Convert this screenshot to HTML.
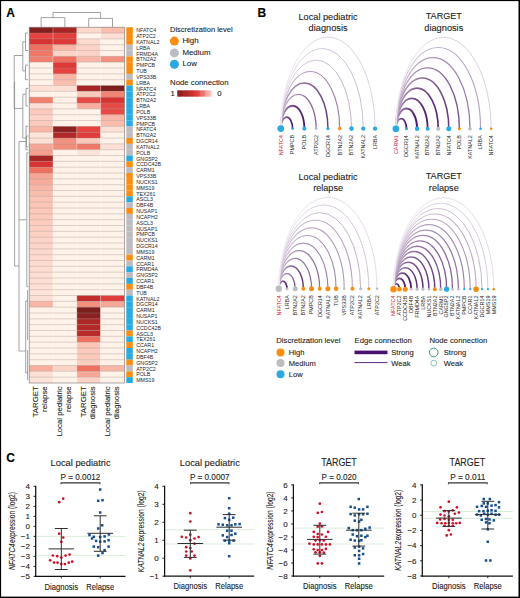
<!DOCTYPE html>
<html><head><meta charset="utf-8"><style>
html,body{margin:0;padding:0;background:#fff;}
body{width:520px;height:598px;overflow:hidden;}
svg{display:block;font-family:"Liberation Sans", sans-serif;}

</style></head><body>
<svg width="520" height="598" viewBox="0 0 520 598">
<rect x="0" y="0" width="520" height="1.1" fill="#000"/>
<rect x="0" y="0" width="1.1" height="598" fill="#000"/>
<rect x="518.5" y="0" width="1.5" height="598" fill="#000"/>
<rect x="0" y="596.6" width="520" height="1.4" fill="#000"/>
<text x="6.2" y="16.7" font-size="12" font-weight="bold" fill="#000" stroke="#000" stroke-width="0.1">A</text>
<text x="257.5" y="16.9" font-size="12" font-weight="bold" fill="#000" stroke="#000" stroke-width="0.1">B</text>
<text x="6.2" y="461.9" font-size="12" font-weight="bold" fill="#000" stroke="#000" stroke-width="0.1">C</text>
<rect x="29.20" y="27.20" width="23.85" height="5.88" fill="#852020"/>
<rect x="53.00" y="27.20" width="23.85" height="5.88" fill="#a62525"/>
<rect x="76.80" y="27.20" width="23.85" height="5.88" fill="#fddacd"/>
<rect x="100.60" y="27.20" width="23.85" height="5.88" fill="#fabeae"/>
<rect x="29.20" y="33.03" width="23.85" height="5.88" fill="#e64240"/>
<rect x="53.00" y="33.03" width="23.85" height="5.88" fill="#e33f3d"/>
<rect x="76.80" y="33.03" width="23.85" height="5.88" fill="#fff2e9"/>
<rect x="100.60" y="33.03" width="23.85" height="5.88" fill="#fde0d5"/>
<rect x="29.20" y="38.87" width="23.85" height="5.88" fill="#d73333"/>
<rect x="53.00" y="38.87" width="23.85" height="5.88" fill="#dd3938"/>
<rect x="76.80" y="38.87" width="23.85" height="5.88" fill="#fddacd"/>
<rect x="100.60" y="38.87" width="23.85" height="5.88" fill="#fff2e9"/>
<rect x="29.20" y="44.70" width="23.85" height="5.88" fill="#ee7060"/>
<rect x="53.00" y="44.70" width="23.85" height="5.88" fill="#f9b6a6"/>
<rect x="76.80" y="44.70" width="23.85" height="5.88" fill="#fcd3c6"/>
<rect x="100.60" y="44.70" width="23.85" height="5.88" fill="#fff2e9"/>
<rect x="29.20" y="50.53" width="23.85" height="5.88" fill="#ef7868"/>
<rect x="53.00" y="50.53" width="23.85" height="5.88" fill="#fcd3c6"/>
<rect x="76.80" y="50.53" width="23.85" height="5.88" fill="#fcd3c6"/>
<rect x="100.60" y="50.53" width="23.85" height="5.88" fill="#fff2e9"/>
<rect x="29.20" y="56.36" width="23.85" height="5.88" fill="#f08070"/>
<rect x="53.00" y="56.36" width="23.85" height="5.88" fill="#ee7060"/>
<rect x="76.80" y="56.36" width="23.85" height="5.88" fill="#f9b6a6"/>
<rect x="100.60" y="56.36" width="23.85" height="5.88" fill="#f3907f"/>
<rect x="29.20" y="62.20" width="23.85" height="5.88" fill="#fff2e9"/>
<rect x="53.00" y="62.20" width="23.85" height="5.88" fill="#dd3938"/>
<rect x="76.80" y="62.20" width="23.85" height="5.88" fill="#fff2e9"/>
<rect x="100.60" y="62.20" width="23.85" height="5.88" fill="#fff2e9"/>
<rect x="29.20" y="68.03" width="23.85" height="5.88" fill="#fff2e9"/>
<rect x="53.00" y="68.03" width="23.85" height="5.88" fill="#e64240"/>
<rect x="76.80" y="68.03" width="23.85" height="5.88" fill="#fff2e9"/>
<rect x="100.60" y="68.03" width="23.85" height="5.88" fill="#fff2e9"/>
<rect x="29.20" y="73.86" width="23.85" height="5.88" fill="#fff2e9"/>
<rect x="53.00" y="73.86" width="23.85" height="5.88" fill="#f9b6a6"/>
<rect x="76.80" y="73.86" width="23.85" height="5.88" fill="#fff2e9"/>
<rect x="100.60" y="73.86" width="23.85" height="5.88" fill="#fff2e9"/>
<rect x="29.20" y="79.70" width="23.85" height="5.88" fill="#fff2e9"/>
<rect x="53.00" y="79.70" width="23.85" height="5.88" fill="#fabeae"/>
<rect x="76.80" y="79.70" width="23.85" height="5.88" fill="#fff2e9"/>
<rect x="100.60" y="79.70" width="23.85" height="5.88" fill="#fff2e9"/>
<rect x="29.20" y="85.53" width="23.85" height="5.88" fill="#fde0d5"/>
<rect x="53.00" y="85.53" width="23.85" height="5.88" fill="#fde0d5"/>
<rect x="76.80" y="85.53" width="23.85" height="5.88" fill="#a62525"/>
<rect x="100.60" y="85.53" width="23.85" height="5.88" fill="#7a1e1e"/>
<rect x="29.20" y="91.36" width="23.85" height="5.88" fill="#fff2e9"/>
<rect x="53.00" y="91.36" width="23.85" height="5.88" fill="#fff2e9"/>
<rect x="76.80" y="91.36" width="23.85" height="5.88" fill="#fbcabc"/>
<rect x="100.60" y="91.36" width="23.85" height="5.88" fill="#f18474"/>
<rect x="29.20" y="97.19" width="23.85" height="5.88" fill="#f08070"/>
<rect x="53.00" y="97.19" width="23.85" height="5.88" fill="#fef0e7"/>
<rect x="76.80" y="97.19" width="23.85" height="5.88" fill="#e74a45"/>
<rect x="100.60" y="97.19" width="23.85" height="5.88" fill="#d73333"/>
<rect x="29.20" y="103.03" width="23.85" height="5.88" fill="#fde0d5"/>
<rect x="53.00" y="103.03" width="23.85" height="5.88" fill="#fff2e9"/>
<rect x="76.80" y="103.03" width="23.85" height="5.88" fill="#f7ae9d"/>
<rect x="100.60" y="103.03" width="23.85" height="5.88" fill="#e74a45"/>
<rect x="29.20" y="108.86" width="23.85" height="5.88" fill="#fbcabc"/>
<rect x="53.00" y="108.86" width="23.85" height="5.88" fill="#fff2e9"/>
<rect x="76.80" y="108.86" width="23.85" height="5.88" fill="#fff2e9"/>
<rect x="100.60" y="108.86" width="23.85" height="5.88" fill="#e74a45"/>
<rect x="29.20" y="114.69" width="23.85" height="5.88" fill="#fcd3c6"/>
<rect x="53.00" y="114.69" width="23.85" height="5.88" fill="#fff2e9"/>
<rect x="76.80" y="114.69" width="23.85" height="5.88" fill="#fff2e9"/>
<rect x="100.60" y="114.69" width="23.85" height="5.88" fill="#f9b6a6"/>
<rect x="29.20" y="120.52" width="23.85" height="5.88" fill="#fbcabc"/>
<rect x="53.00" y="120.52" width="23.85" height="5.88" fill="#fff2e9"/>
<rect x="76.80" y="120.52" width="23.85" height="5.88" fill="#fff2e9"/>
<rect x="100.60" y="120.52" width="23.85" height="5.88" fill="#fabcab"/>
<rect x="29.20" y="126.36" width="23.85" height="5.88" fill="#f9b6a6"/>
<rect x="53.00" y="126.36" width="23.85" height="5.88" fill="#8c2121"/>
<rect x="76.80" y="126.36" width="23.85" height="5.88" fill="#e64240"/>
<rect x="100.60" y="126.36" width="23.85" height="5.88" fill="#fde0d5"/>
<rect x="29.20" y="132.19" width="23.85" height="5.88" fill="#fde4d9"/>
<rect x="53.00" y="132.19" width="23.85" height="5.88" fill="#b02828"/>
<rect x="76.80" y="132.19" width="23.85" height="5.88" fill="#e03c3b"/>
<rect x="100.60" y="132.19" width="23.85" height="5.88" fill="#fff2e9"/>
<rect x="29.20" y="138.02" width="23.85" height="5.88" fill="#fde0d5"/>
<rect x="53.00" y="138.02" width="23.85" height="5.88" fill="#f3907f"/>
<rect x="76.80" y="138.02" width="23.85" height="5.88" fill="#fbcabc"/>
<rect x="100.60" y="138.02" width="23.85" height="5.88" fill="#fff2e9"/>
<rect x="29.20" y="143.86" width="23.85" height="5.88" fill="#f6a695"/>
<rect x="53.00" y="143.86" width="23.85" height="5.88" fill="#f28c7b"/>
<rect x="76.80" y="143.86" width="23.85" height="5.88" fill="#ef7868"/>
<rect x="100.60" y="143.86" width="23.85" height="5.88" fill="#fde0d5"/>
<rect x="29.20" y="149.69" width="23.85" height="5.88" fill="#f5a08f"/>
<rect x="53.00" y="149.69" width="23.85" height="5.88" fill="#fff2e9"/>
<rect x="76.80" y="149.69" width="23.85" height="5.88" fill="#fde4d9"/>
<rect x="100.60" y="149.69" width="23.85" height="5.88" fill="#fff2e9"/>
<rect x="29.20" y="155.52" width="23.85" height="5.88" fill="#a62525"/>
<rect x="53.00" y="155.52" width="23.85" height="5.88" fill="#fff2e9"/>
<rect x="76.80" y="155.52" width="23.85" height="5.88" fill="#fff2e9"/>
<rect x="100.60" y="155.52" width="23.85" height="5.88" fill="#fff2e9"/>
<rect x="29.20" y="161.35" width="23.85" height="5.88" fill="#d73333"/>
<rect x="53.00" y="161.35" width="23.85" height="5.88" fill="#fff2e9"/>
<rect x="76.80" y="161.35" width="23.85" height="5.88" fill="#fff2e9"/>
<rect x="100.60" y="161.35" width="23.85" height="5.88" fill="#fff2e9"/>
<rect x="29.20" y="167.19" width="23.85" height="5.88" fill="#ee7060"/>
<rect x="53.00" y="167.19" width="23.85" height="5.88" fill="#fff2e9"/>
<rect x="76.80" y="167.19" width="23.85" height="5.88" fill="#fff2e9"/>
<rect x="100.60" y="167.19" width="23.85" height="5.88" fill="#fff2e9"/>
<rect x="29.20" y="173.02" width="23.85" height="5.88" fill="#f6a695"/>
<rect x="53.00" y="173.02" width="23.85" height="5.88" fill="#fff2e9"/>
<rect x="76.80" y="173.02" width="23.85" height="5.88" fill="#fff2e9"/>
<rect x="100.60" y="173.02" width="23.85" height="5.88" fill="#fff2e9"/>
<rect x="29.20" y="178.85" width="23.85" height="5.88" fill="#f7ab9a"/>
<rect x="53.00" y="178.85" width="23.85" height="5.88" fill="#fff2e9"/>
<rect x="76.80" y="178.85" width="23.85" height="5.88" fill="#fff2e9"/>
<rect x="100.60" y="178.85" width="23.85" height="5.88" fill="#fff2e9"/>
<rect x="29.20" y="184.69" width="23.85" height="5.88" fill="#f9b6a6"/>
<rect x="53.00" y="184.69" width="23.85" height="5.88" fill="#fff2e9"/>
<rect x="76.80" y="184.69" width="23.85" height="5.88" fill="#fff2e9"/>
<rect x="100.60" y="184.69" width="23.85" height="5.88" fill="#fff2e9"/>
<rect x="29.20" y="190.52" width="23.85" height="5.88" fill="#fabeae"/>
<rect x="53.00" y="190.52" width="23.85" height="5.88" fill="#fff2e9"/>
<rect x="76.80" y="190.52" width="23.85" height="5.88" fill="#fff2e9"/>
<rect x="100.60" y="190.52" width="23.85" height="5.88" fill="#fff2e9"/>
<rect x="29.20" y="196.35" width="23.85" height="5.88" fill="#fbc4b4"/>
<rect x="53.00" y="196.35" width="23.85" height="5.88" fill="#fff2e9"/>
<rect x="76.80" y="196.35" width="23.85" height="5.88" fill="#fff2e9"/>
<rect x="100.60" y="196.35" width="23.85" height="5.88" fill="#fff2e9"/>
<rect x="29.20" y="202.18" width="23.85" height="5.88" fill="#fbc6b7"/>
<rect x="53.00" y="202.18" width="23.85" height="5.88" fill="#fff2e9"/>
<rect x="76.80" y="202.18" width="23.85" height="5.88" fill="#fff2e9"/>
<rect x="100.60" y="202.18" width="23.85" height="5.88" fill="#fff2e9"/>
<rect x="29.20" y="208.02" width="23.85" height="5.88" fill="#fbc8b9"/>
<rect x="53.00" y="208.02" width="23.85" height="5.88" fill="#fff2e9"/>
<rect x="76.80" y="208.02" width="23.85" height="5.88" fill="#fff2e9"/>
<rect x="100.60" y="208.02" width="23.85" height="5.88" fill="#fff2e9"/>
<rect x="29.20" y="213.85" width="23.85" height="5.88" fill="#fbcabc"/>
<rect x="53.00" y="213.85" width="23.85" height="5.88" fill="#fff2e9"/>
<rect x="76.80" y="213.85" width="23.85" height="5.88" fill="#fff2e9"/>
<rect x="100.60" y="213.85" width="23.85" height="5.88" fill="#fff2e9"/>
<rect x="29.20" y="219.68" width="23.85" height="5.88" fill="#fccdbe"/>
<rect x="53.00" y="219.68" width="23.85" height="5.88" fill="#fff2e9"/>
<rect x="76.80" y="219.68" width="23.85" height="5.88" fill="#fff2e9"/>
<rect x="100.60" y="219.68" width="23.85" height="5.88" fill="#fff2e9"/>
<rect x="29.20" y="225.51" width="23.85" height="5.88" fill="#fccfc1"/>
<rect x="53.00" y="225.51" width="23.85" height="5.88" fill="#fff2e9"/>
<rect x="76.80" y="225.51" width="23.85" height="5.88" fill="#fff2e9"/>
<rect x="100.60" y="225.51" width="23.85" height="5.88" fill="#fff2e9"/>
<rect x="29.20" y="231.35" width="23.85" height="5.88" fill="#fcd1c3"/>
<rect x="53.00" y="231.35" width="23.85" height="5.88" fill="#fff2e9"/>
<rect x="76.80" y="231.35" width="23.85" height="5.88" fill="#fff2e9"/>
<rect x="100.60" y="231.35" width="23.85" height="5.88" fill="#fff2e9"/>
<rect x="29.20" y="237.18" width="23.85" height="5.88" fill="#fcd3c6"/>
<rect x="53.00" y="237.18" width="23.85" height="5.88" fill="#fff2e9"/>
<rect x="76.80" y="237.18" width="23.85" height="5.88" fill="#fff2e9"/>
<rect x="100.60" y="237.18" width="23.85" height="5.88" fill="#fff2e9"/>
<rect x="29.20" y="243.01" width="23.85" height="5.88" fill="#fcd5c8"/>
<rect x="53.00" y="243.01" width="23.85" height="5.88" fill="#fff2e9"/>
<rect x="76.80" y="243.01" width="23.85" height="5.88" fill="#fff2e9"/>
<rect x="100.60" y="243.01" width="23.85" height="5.88" fill="#fff2e9"/>
<rect x="29.20" y="248.85" width="23.85" height="5.88" fill="#fcd7cb"/>
<rect x="53.00" y="248.85" width="23.85" height="5.88" fill="#fff2e9"/>
<rect x="76.80" y="248.85" width="23.85" height="5.88" fill="#fff2e9"/>
<rect x="100.60" y="248.85" width="23.85" height="5.88" fill="#fff2e9"/>
<rect x="29.20" y="254.68" width="23.85" height="5.88" fill="#fddacd"/>
<rect x="53.00" y="254.68" width="23.85" height="5.88" fill="#fff2e9"/>
<rect x="76.80" y="254.68" width="23.85" height="5.88" fill="#fff2e9"/>
<rect x="100.60" y="254.68" width="23.85" height="5.88" fill="#fff2e9"/>
<rect x="29.20" y="260.51" width="23.85" height="5.88" fill="#fddcd0"/>
<rect x="53.00" y="260.51" width="23.85" height="5.88" fill="#fff2e9"/>
<rect x="76.80" y="260.51" width="23.85" height="5.88" fill="#fff2e9"/>
<rect x="100.60" y="260.51" width="23.85" height="5.88" fill="#fff2e9"/>
<rect x="29.20" y="266.34" width="23.85" height="5.88" fill="#fddcd0"/>
<rect x="53.00" y="266.34" width="23.85" height="5.88" fill="#fff2e9"/>
<rect x="76.80" y="266.34" width="23.85" height="5.88" fill="#fff2e9"/>
<rect x="100.60" y="266.34" width="23.85" height="5.88" fill="#fff2e9"/>
<rect x="29.20" y="272.18" width="23.85" height="5.88" fill="#fdded2"/>
<rect x="53.00" y="272.18" width="23.85" height="5.88" fill="#fff2e9"/>
<rect x="76.80" y="272.18" width="23.85" height="5.88" fill="#fff2e9"/>
<rect x="100.60" y="272.18" width="23.85" height="5.88" fill="#fff2e9"/>
<rect x="29.20" y="278.01" width="23.85" height="5.88" fill="#fdded2"/>
<rect x="53.00" y="278.01" width="23.85" height="5.88" fill="#fff2e9"/>
<rect x="76.80" y="278.01" width="23.85" height="5.88" fill="#fff2e9"/>
<rect x="100.60" y="278.01" width="23.85" height="5.88" fill="#fff2e9"/>
<rect x="29.20" y="283.84" width="23.85" height="5.88" fill="#fde0d5"/>
<rect x="53.00" y="283.84" width="23.85" height="5.88" fill="#fff2e9"/>
<rect x="76.80" y="283.84" width="23.85" height="5.88" fill="#fff2e9"/>
<rect x="100.60" y="283.84" width="23.85" height="5.88" fill="#fff2e9"/>
<rect x="29.20" y="289.68" width="23.85" height="5.88" fill="#fde4d9"/>
<rect x="53.00" y="289.68" width="23.85" height="5.88" fill="#fff2e9"/>
<rect x="76.80" y="289.68" width="23.85" height="5.88" fill="#fff2e9"/>
<rect x="100.60" y="289.68" width="23.85" height="5.88" fill="#fff2e9"/>
<rect x="29.20" y="295.51" width="23.85" height="5.88" fill="#fde0d5"/>
<rect x="53.00" y="295.51" width="23.85" height="5.88" fill="#fff2e9"/>
<rect x="76.80" y="295.51" width="23.85" height="5.88" fill="#c12b2b"/>
<rect x="100.60" y="295.51" width="23.85" height="5.88" fill="#e03c3b"/>
<rect x="29.20" y="301.34" width="23.85" height="5.88" fill="#f9b6a6"/>
<rect x="53.00" y="301.34" width="23.85" height="5.88" fill="#fff2e9"/>
<rect x="76.80" y="301.34" width="23.85" height="5.88" fill="#f3907f"/>
<rect x="100.60" y="301.34" width="23.85" height="5.88" fill="#f6a898"/>
<rect x="29.20" y="307.17" width="23.85" height="5.88" fill="#fff2e9"/>
<rect x="53.00" y="307.17" width="23.85" height="5.88" fill="#fff2e9"/>
<rect x="76.80" y="307.17" width="23.85" height="5.88" fill="#7a1e1e"/>
<rect x="100.60" y="307.17" width="23.85" height="5.88" fill="#fff2e9"/>
<rect x="29.20" y="313.01" width="23.85" height="5.88" fill="#fff2e9"/>
<rect x="53.00" y="313.01" width="23.85" height="5.88" fill="#fff2e9"/>
<rect x="76.80" y="313.01" width="23.85" height="5.88" fill="#8c2121"/>
<rect x="100.60" y="313.01" width="23.85" height="5.88" fill="#fff2e9"/>
<rect x="29.20" y="318.84" width="23.85" height="5.88" fill="#fff2e9"/>
<rect x="53.00" y="318.84" width="23.85" height="5.88" fill="#fff2e9"/>
<rect x="76.80" y="318.84" width="23.85" height="5.88" fill="#ad2727"/>
<rect x="100.60" y="318.84" width="23.85" height="5.88" fill="#fff2e9"/>
<rect x="29.20" y="324.67" width="23.85" height="5.88" fill="#fff2e9"/>
<rect x="53.00" y="324.67" width="23.85" height="5.88" fill="#fff2e9"/>
<rect x="76.80" y="324.67" width="23.85" height="5.88" fill="#b42828"/>
<rect x="100.60" y="324.67" width="23.85" height="5.88" fill="#fff2e9"/>
<rect x="29.20" y="330.50" width="23.85" height="5.88" fill="#fff2e9"/>
<rect x="53.00" y="330.50" width="23.85" height="5.88" fill="#fff2e9"/>
<rect x="76.80" y="330.50" width="23.85" height="5.88" fill="#ba2a2a"/>
<rect x="100.60" y="330.50" width="23.85" height="5.88" fill="#fff2e9"/>
<rect x="29.20" y="336.34" width="23.85" height="5.88" fill="#fff2e9"/>
<rect x="53.00" y="336.34" width="23.85" height="5.88" fill="#fff2e9"/>
<rect x="76.80" y="336.34" width="23.85" height="5.88" fill="#ee7060"/>
<rect x="100.60" y="336.34" width="23.85" height="5.88" fill="#fff2e9"/>
<rect x="29.20" y="342.17" width="23.85" height="5.88" fill="#fff2e9"/>
<rect x="53.00" y="342.17" width="23.85" height="5.88" fill="#fff2e9"/>
<rect x="76.80" y="342.17" width="23.85" height="5.88" fill="#fbc4b4"/>
<rect x="100.60" y="342.17" width="23.85" height="5.88" fill="#fff2e9"/>
<rect x="29.20" y="348.00" width="23.85" height="5.88" fill="#fff2e9"/>
<rect x="53.00" y="348.00" width="23.85" height="5.88" fill="#fff2e9"/>
<rect x="76.80" y="348.00" width="23.85" height="5.88" fill="#fbcabc"/>
<rect x="100.60" y="348.00" width="23.85" height="5.88" fill="#fff2e9"/>
<rect x="29.20" y="353.84" width="23.85" height="5.88" fill="#fff2e9"/>
<rect x="53.00" y="353.84" width="23.85" height="5.88" fill="#fff2e9"/>
<rect x="76.80" y="353.84" width="23.85" height="5.88" fill="#fbcabc"/>
<rect x="100.60" y="353.84" width="23.85" height="5.88" fill="#fff2e9"/>
<rect x="29.20" y="359.67" width="23.85" height="5.88" fill="#fff2e9"/>
<rect x="53.00" y="359.67" width="23.85" height="5.88" fill="#fff2e9"/>
<rect x="76.80" y="359.67" width="23.85" height="5.88" fill="#fccfc1"/>
<rect x="100.60" y="359.67" width="23.85" height="5.88" fill="#fff2e9"/>
<rect x="29.20" y="365.50" width="23.85" height="5.88" fill="#f7ae9d"/>
<rect x="53.00" y="365.50" width="23.85" height="5.88" fill="#fcd3c6"/>
<rect x="76.80" y="365.50" width="23.85" height="5.88" fill="#ee7060"/>
<rect x="100.60" y="365.50" width="23.85" height="5.88" fill="#f9b6a6"/>
<rect x="29.20" y="371.33" width="23.85" height="5.88" fill="#fde0d5"/>
<rect x="53.00" y="371.33" width="23.85" height="5.88" fill="#fff2e9"/>
<rect x="76.80" y="371.33" width="23.85" height="5.88" fill="#f6a898"/>
<rect x="100.60" y="371.33" width="23.85" height="5.88" fill="#fff2e9"/>
<rect x="29.20" y="377.17" width="23.85" height="5.88" fill="#fde4d9"/>
<rect x="53.00" y="377.17" width="23.85" height="5.88" fill="#fff2e9"/>
<rect x="76.80" y="377.17" width="23.85" height="5.88" fill="#fcd3c6"/>
<rect x="100.60" y="377.17" width="23.85" height="5.88" fill="#fff2e9"/>
<line x1="29.2" y1="33.03" x2="124.4" y2="33.03" stroke="#a08c84" stroke-opacity="0.45" stroke-width="0.8"/>
<line x1="29.2" y1="38.87" x2="124.4" y2="38.87" stroke="#a08c84" stroke-opacity="0.45" stroke-width="0.8"/>
<line x1="29.2" y1="44.70" x2="124.4" y2="44.70" stroke="#a08c84" stroke-opacity="0.45" stroke-width="0.8"/>
<line x1="29.2" y1="50.53" x2="124.4" y2="50.53" stroke="#a08c84" stroke-opacity="0.45" stroke-width="0.8"/>
<line x1="29.2" y1="56.36" x2="124.4" y2="56.36" stroke="#a08c84" stroke-opacity="0.45" stroke-width="0.8"/>
<line x1="29.2" y1="62.20" x2="124.4" y2="62.20" stroke="#a08c84" stroke-opacity="0.45" stroke-width="0.8"/>
<line x1="29.2" y1="68.03" x2="124.4" y2="68.03" stroke="#a08c84" stroke-opacity="0.45" stroke-width="0.8"/>
<line x1="29.2" y1="73.86" x2="124.4" y2="73.86" stroke="#a08c84" stroke-opacity="0.45" stroke-width="0.8"/>
<line x1="29.2" y1="79.70" x2="124.4" y2="79.70" stroke="#a08c84" stroke-opacity="0.45" stroke-width="0.8"/>
<line x1="29.2" y1="85.53" x2="124.4" y2="85.53" stroke="#a08c84" stroke-opacity="0.45" stroke-width="0.8"/>
<line x1="29.2" y1="91.36" x2="124.4" y2="91.36" stroke="#a08c84" stroke-opacity="0.45" stroke-width="0.8"/>
<line x1="29.2" y1="97.19" x2="124.4" y2="97.19" stroke="#a08c84" stroke-opacity="0.45" stroke-width="0.8"/>
<line x1="29.2" y1="103.03" x2="124.4" y2="103.03" stroke="#a08c84" stroke-opacity="0.45" stroke-width="0.8"/>
<line x1="29.2" y1="108.86" x2="124.4" y2="108.86" stroke="#a08c84" stroke-opacity="0.45" stroke-width="0.8"/>
<line x1="29.2" y1="114.69" x2="124.4" y2="114.69" stroke="#a08c84" stroke-opacity="0.45" stroke-width="0.8"/>
<line x1="29.2" y1="120.52" x2="124.4" y2="120.52" stroke="#a08c84" stroke-opacity="0.45" stroke-width="0.8"/>
<line x1="29.2" y1="126.36" x2="124.4" y2="126.36" stroke="#a08c84" stroke-opacity="0.45" stroke-width="0.8"/>
<line x1="29.2" y1="132.19" x2="124.4" y2="132.19" stroke="#a08c84" stroke-opacity="0.45" stroke-width="0.8"/>
<line x1="29.2" y1="138.02" x2="124.4" y2="138.02" stroke="#a08c84" stroke-opacity="0.45" stroke-width="0.8"/>
<line x1="29.2" y1="143.86" x2="124.4" y2="143.86" stroke="#a08c84" stroke-opacity="0.45" stroke-width="0.8"/>
<line x1="29.2" y1="149.69" x2="124.4" y2="149.69" stroke="#a08c84" stroke-opacity="0.45" stroke-width="0.8"/>
<line x1="29.2" y1="155.52" x2="124.4" y2="155.52" stroke="#a08c84" stroke-opacity="0.45" stroke-width="0.8"/>
<line x1="29.2" y1="161.35" x2="124.4" y2="161.35" stroke="#a08c84" stroke-opacity="0.45" stroke-width="0.8"/>
<line x1="29.2" y1="167.19" x2="124.4" y2="167.19" stroke="#a08c84" stroke-opacity="0.45" stroke-width="0.8"/>
<line x1="29.2" y1="173.02" x2="124.4" y2="173.02" stroke="#a08c84" stroke-opacity="0.45" stroke-width="0.8"/>
<line x1="29.2" y1="178.85" x2="124.4" y2="178.85" stroke="#a08c84" stroke-opacity="0.45" stroke-width="0.8"/>
<line x1="29.2" y1="184.69" x2="124.4" y2="184.69" stroke="#a08c84" stroke-opacity="0.45" stroke-width="0.8"/>
<line x1="29.2" y1="190.52" x2="124.4" y2="190.52" stroke="#a08c84" stroke-opacity="0.45" stroke-width="0.8"/>
<line x1="29.2" y1="196.35" x2="124.4" y2="196.35" stroke="#a08c84" stroke-opacity="0.45" stroke-width="0.8"/>
<line x1="29.2" y1="202.18" x2="124.4" y2="202.18" stroke="#a08c84" stroke-opacity="0.45" stroke-width="0.8"/>
<line x1="29.2" y1="208.02" x2="124.4" y2="208.02" stroke="#a08c84" stroke-opacity="0.45" stroke-width="0.8"/>
<line x1="29.2" y1="213.85" x2="124.4" y2="213.85" stroke="#a08c84" stroke-opacity="0.45" stroke-width="0.8"/>
<line x1="29.2" y1="219.68" x2="124.4" y2="219.68" stroke="#a08c84" stroke-opacity="0.45" stroke-width="0.8"/>
<line x1="29.2" y1="225.51" x2="124.4" y2="225.51" stroke="#a08c84" stroke-opacity="0.45" stroke-width="0.8"/>
<line x1="29.2" y1="231.35" x2="124.4" y2="231.35" stroke="#a08c84" stroke-opacity="0.45" stroke-width="0.8"/>
<line x1="29.2" y1="237.18" x2="124.4" y2="237.18" stroke="#a08c84" stroke-opacity="0.45" stroke-width="0.8"/>
<line x1="29.2" y1="243.01" x2="124.4" y2="243.01" stroke="#a08c84" stroke-opacity="0.45" stroke-width="0.8"/>
<line x1="29.2" y1="248.85" x2="124.4" y2="248.85" stroke="#a08c84" stroke-opacity="0.45" stroke-width="0.8"/>
<line x1="29.2" y1="254.68" x2="124.4" y2="254.68" stroke="#a08c84" stroke-opacity="0.45" stroke-width="0.8"/>
<line x1="29.2" y1="260.51" x2="124.4" y2="260.51" stroke="#a08c84" stroke-opacity="0.45" stroke-width="0.8"/>
<line x1="29.2" y1="266.34" x2="124.4" y2="266.34" stroke="#a08c84" stroke-opacity="0.45" stroke-width="0.8"/>
<line x1="29.2" y1="272.18" x2="124.4" y2="272.18" stroke="#a08c84" stroke-opacity="0.45" stroke-width="0.8"/>
<line x1="29.2" y1="278.01" x2="124.4" y2="278.01" stroke="#a08c84" stroke-opacity="0.45" stroke-width="0.8"/>
<line x1="29.2" y1="283.84" x2="124.4" y2="283.84" stroke="#a08c84" stroke-opacity="0.45" stroke-width="0.8"/>
<line x1="29.2" y1="289.68" x2="124.4" y2="289.68" stroke="#a08c84" stroke-opacity="0.45" stroke-width="0.8"/>
<line x1="29.2" y1="295.51" x2="124.4" y2="295.51" stroke="#a08c84" stroke-opacity="0.45" stroke-width="0.8"/>
<line x1="29.2" y1="301.34" x2="124.4" y2="301.34" stroke="#a08c84" stroke-opacity="0.45" stroke-width="0.8"/>
<line x1="29.2" y1="307.17" x2="124.4" y2="307.17" stroke="#a08c84" stroke-opacity="0.45" stroke-width="0.8"/>
<line x1="29.2" y1="313.01" x2="124.4" y2="313.01" stroke="#a08c84" stroke-opacity="0.45" stroke-width="0.8"/>
<line x1="29.2" y1="318.84" x2="124.4" y2="318.84" stroke="#a08c84" stroke-opacity="0.45" stroke-width="0.8"/>
<line x1="29.2" y1="324.67" x2="124.4" y2="324.67" stroke="#a08c84" stroke-opacity="0.45" stroke-width="0.8"/>
<line x1="29.2" y1="330.50" x2="124.4" y2="330.50" stroke="#a08c84" stroke-opacity="0.45" stroke-width="0.8"/>
<line x1="29.2" y1="336.34" x2="124.4" y2="336.34" stroke="#a08c84" stroke-opacity="0.45" stroke-width="0.8"/>
<line x1="29.2" y1="342.17" x2="124.4" y2="342.17" stroke="#a08c84" stroke-opacity="0.45" stroke-width="0.8"/>
<line x1="29.2" y1="348.00" x2="124.4" y2="348.00" stroke="#a08c84" stroke-opacity="0.45" stroke-width="0.8"/>
<line x1="29.2" y1="353.84" x2="124.4" y2="353.84" stroke="#a08c84" stroke-opacity="0.45" stroke-width="0.8"/>
<line x1="29.2" y1="359.67" x2="124.4" y2="359.67" stroke="#a08c84" stroke-opacity="0.45" stroke-width="0.8"/>
<line x1="29.2" y1="365.50" x2="124.4" y2="365.50" stroke="#a08c84" stroke-opacity="0.45" stroke-width="0.8"/>
<line x1="29.2" y1="371.33" x2="124.4" y2="371.33" stroke="#a08c84" stroke-opacity="0.45" stroke-width="0.8"/>
<line x1="29.2" y1="377.17" x2="124.4" y2="377.17" stroke="#a08c84" stroke-opacity="0.45" stroke-width="0.8"/>
<line x1="53.00" y1="27.2" x2="53.00" y2="383.0" stroke="#ffffff" stroke-opacity="0.5" stroke-width="0.6"/>
<line x1="76.80" y1="27.2" x2="76.80" y2="383.0" stroke="#ffffff" stroke-opacity="0.5" stroke-width="0.6"/>
<line x1="100.60" y1="27.2" x2="100.60" y2="383.0" stroke="#ffffff" stroke-opacity="0.5" stroke-width="0.6"/>
<rect x="29.2" y="27.2" width="95.20" height="355.80" fill="none" stroke="#8a8080" stroke-width="0.7"/>
<rect x="126.3" y="27.20" width="6.5" height="5.88" fill="#fa8e12"/>
<text x="136.2" y="32.32" font-size="5.3" fill="#262626" stroke="none">NFATC4</text>
<rect x="126.3" y="33.03" width="6.5" height="5.88" fill="#fa8e12"/>
<text x="136.2" y="38.15" font-size="5.3" fill="#262626" stroke="none">ATP2C2</text>
<rect x="126.3" y="38.87" width="6.5" height="5.88" fill="#fa8e12"/>
<text x="136.2" y="43.98" font-size="5.3" fill="#262626" stroke="none">KATNAL2</text>
<rect x="126.3" y="44.70" width="6.5" height="5.88" fill="#bcbcc1"/>
<text x="136.2" y="49.81" font-size="5.3" fill="#262626" stroke="none">LRBA</text>
<rect x="126.3" y="50.53" width="6.5" height="5.88" fill="#bcbcc1"/>
<text x="136.2" y="55.65" font-size="5.3" fill="#262626" stroke="none">FRMD4A</text>
<rect x="126.3" y="56.36" width="6.5" height="5.88" fill="#fa8e12"/>
<text x="136.2" y="61.48" font-size="5.3" fill="#262626" stroke="none">BTN2A2</text>
<rect x="126.3" y="62.20" width="6.5" height="5.88" fill="#fa8e12"/>
<text x="136.2" y="67.31" font-size="5.3" fill="#262626" stroke="none">PMPCB</text>
<rect x="126.3" y="68.03" width="6.5" height="5.88" fill="#fa8e12"/>
<text x="136.2" y="73.15" font-size="5.3" fill="#262626" stroke="none">TUB</text>
<rect x="126.3" y="73.86" width="6.5" height="5.88" fill="#bcbcc1"/>
<text x="136.2" y="78.98" font-size="5.3" fill="#262626" stroke="none">VPS33B</text>
<rect x="126.3" y="79.70" width="6.5" height="5.88" fill="#fa8e12"/>
<text x="136.2" y="84.81" font-size="5.3" fill="#262626" stroke="none">LRBA</text>
<rect x="126.3" y="85.53" width="6.5" height="5.88" fill="#29abe2"/>
<text x="136.2" y="90.64" font-size="5.3" fill="#262626" stroke="none">NFATC4</text>
<rect x="126.3" y="91.36" width="6.5" height="5.88" fill="#29abe2"/>
<text x="136.2" y="96.48" font-size="5.3" fill="#262626" stroke="none">ATP2C2</text>
<rect x="126.3" y="97.19" width="6.5" height="5.88" fill="#29abe2"/>
<text x="136.2" y="102.31" font-size="5.3" fill="#262626" stroke="none">BTN2A2</text>
<rect x="126.3" y="103.03" width="6.5" height="5.88" fill="#29abe2"/>
<text x="136.2" y="108.14" font-size="5.3" fill="#262626" stroke="none">LRBA</text>
<rect x="126.3" y="108.86" width="6.5" height="5.88" fill="#29abe2"/>
<text x="136.2" y="113.98" font-size="5.3" fill="#262626" stroke="none">POLB</text>
<rect x="126.3" y="114.69" width="6.5" height="5.88" fill="#29abe2"/>
<text x="136.2" y="119.81" font-size="5.3" fill="#262626" stroke="none">VPS33B</text>
<rect x="126.3" y="120.52" width="6.5" height="5.88" fill="#29abe2"/>
<text x="136.2" y="125.64" font-size="5.3" fill="#262626" stroke="none">PMPCB</text>
<rect x="126.3" y="126.36" width="6.5" height="5.88" fill="#bcbcc1"/>
<text x="136.2" y="131.47" font-size="5.3" fill="#262626" stroke="none">NFATC4</text>
<rect x="126.3" y="132.19" width="6.5" height="5.88" fill="#bcbcc1"/>
<text x="136.2" y="137.31" font-size="5.3" fill="#262626" stroke="none">BTN2A2</text>
<rect x="126.3" y="138.02" width="6.5" height="5.88" fill="#fa8e12"/>
<text x="136.2" y="143.14" font-size="5.3" fill="#262626" stroke="none">DGCR14</text>
<rect x="126.3" y="143.86" width="6.5" height="5.88" fill="#bcbcc1"/>
<text x="136.2" y="148.97" font-size="5.3" fill="#262626" stroke="none">KATNAL2</text>
<rect x="126.3" y="149.69" width="6.5" height="5.88" fill="#bcbcc1"/>
<text x="136.2" y="154.80" font-size="5.3" fill="#262626" stroke="none">POLB</text>
<rect x="126.3" y="155.52" width="6.5" height="5.88" fill="#29abe2"/>
<text x="136.2" y="160.64" font-size="5.3" fill="#262626" stroke="none">GNG5P2</text>
<rect x="126.3" y="161.35" width="6.5" height="5.88" fill="#fa8e12"/>
<text x="136.2" y="166.47" font-size="5.3" fill="#262626" stroke="none">CCDC42B</text>
<rect x="126.3" y="167.19" width="6.5" height="5.88" fill="#bcbcc1"/>
<text x="136.2" y="172.30" font-size="5.3" fill="#262626" stroke="none">CARM1</text>
<rect x="126.3" y="173.02" width="6.5" height="5.88" fill="#fa8e12"/>
<text x="136.2" y="178.14" font-size="5.3" fill="#262626" stroke="none">VPS33B</text>
<rect x="126.3" y="178.85" width="6.5" height="5.88" fill="#fa8e12"/>
<text x="136.2" y="183.97" font-size="5.3" fill="#262626" stroke="none">NUCKS1</text>
<rect x="126.3" y="184.69" width="6.5" height="5.88" fill="#fa8e12"/>
<text x="136.2" y="189.80" font-size="5.3" fill="#262626" stroke="none">MMS19</text>
<rect x="126.3" y="190.52" width="6.5" height="5.88" fill="#fa8e12"/>
<text x="136.2" y="195.63" font-size="5.3" fill="#262626" stroke="none">TEX261</text>
<rect x="126.3" y="196.35" width="6.5" height="5.88" fill="#29abe2"/>
<text x="136.2" y="201.47" font-size="5.3" fill="#262626" stroke="none">ASCL3</text>
<rect x="126.3" y="202.18" width="6.5" height="5.88" fill="#bcbcc1"/>
<text x="136.2" y="207.30" font-size="5.3" fill="#262626" stroke="none">DBF4B</text>
<rect x="126.3" y="208.02" width="6.5" height="5.88" fill="#fa8e12"/>
<text x="136.2" y="213.13" font-size="5.3" fill="#262626" stroke="none">NUSAP1</text>
<rect x="126.3" y="213.85" width="6.5" height="5.88" fill="#bcbcc1"/>
<text x="136.2" y="218.97" font-size="5.3" fill="#262626" stroke="none">NCAPH2</text>
<rect x="126.3" y="219.68" width="6.5" height="5.88" fill="#bcbcc1"/>
<text x="136.2" y="224.80" font-size="5.3" fill="#262626" stroke="none">ASCL3</text>
<rect x="126.3" y="225.51" width="6.5" height="5.88" fill="#bcbcc1"/>
<text x="136.2" y="230.63" font-size="5.3" fill="#262626" stroke="none">NUSAP1</text>
<rect x="126.3" y="231.35" width="6.5" height="5.88" fill="#bcbcc1"/>
<text x="136.2" y="236.46" font-size="5.3" fill="#262626" stroke="none">PMPCB</text>
<rect x="126.3" y="237.18" width="6.5" height="5.88" fill="#bcbcc1"/>
<text x="136.2" y="242.30" font-size="5.3" fill="#262626" stroke="none">NUCKS1</text>
<rect x="126.3" y="243.01" width="6.5" height="5.88" fill="#bcbcc1"/>
<text x="136.2" y="248.13" font-size="5.3" fill="#262626" stroke="none">DGCR14</text>
<rect x="126.3" y="248.85" width="6.5" height="5.88" fill="#bcbcc1"/>
<text x="136.2" y="253.96" font-size="5.3" fill="#262626" stroke="none">MMS19</text>
<rect x="126.3" y="254.68" width="6.5" height="5.88" fill="#fa8e12"/>
<text x="136.2" y="259.80" font-size="5.3" fill="#262626" stroke="none">CARM1</text>
<rect x="126.3" y="260.51" width="6.5" height="5.88" fill="#bcbcc1"/>
<text x="136.2" y="265.63" font-size="5.3" fill="#262626" stroke="none">CCAR1</text>
<rect x="126.3" y="266.34" width="6.5" height="5.88" fill="#29abe2"/>
<text x="136.2" y="271.46" font-size="5.3" fill="#262626" stroke="none">FRMD4A</text>
<rect x="126.3" y="272.18" width="6.5" height="5.88" fill="#bcbcc1"/>
<text x="136.2" y="277.29" font-size="5.3" fill="#262626" stroke="none">GNG5P2</text>
<rect x="126.3" y="278.01" width="6.5" height="5.88" fill="#29abe2"/>
<text x="136.2" y="283.13" font-size="5.3" fill="#262626" stroke="none">CCAR1</text>
<rect x="126.3" y="283.84" width="6.5" height="5.88" fill="#fa8e12"/>
<text x="136.2" y="288.96" font-size="5.3" fill="#262626" stroke="none">DBF4B</text>
<rect x="126.3" y="289.68" width="6.5" height="5.88" fill="#bcbcc1"/>
<text x="136.2" y="294.79" font-size="5.3" fill="#262626" stroke="none">TUB</text>
<rect x="126.3" y="295.51" width="6.5" height="5.88" fill="#29abe2"/>
<text x="136.2" y="300.62" font-size="5.3" fill="#262626" stroke="none">KATNAL2</text>
<rect x="126.3" y="301.34" width="6.5" height="5.88" fill="#29abe2"/>
<text x="136.2" y="306.46" font-size="5.3" fill="#262626" stroke="none">DGCR14</text>
<rect x="126.3" y="307.17" width="6.5" height="5.88" fill="#29abe2"/>
<text x="136.2" y="312.29" font-size="5.3" fill="#262626" stroke="none">CARM1</text>
<rect x="126.3" y="313.01" width="6.5" height="5.88" fill="#29abe2"/>
<text x="136.2" y="318.12" font-size="5.3" fill="#262626" stroke="none">NUSAP1</text>
<rect x="126.3" y="318.84" width="6.5" height="5.88" fill="#29abe2"/>
<text x="136.2" y="323.96" font-size="5.3" fill="#262626" stroke="none">NUCKS1</text>
<rect x="126.3" y="324.67" width="6.5" height="5.88" fill="#29abe2"/>
<text x="136.2" y="329.79" font-size="5.3" fill="#262626" stroke="none">CCDC42B</text>
<rect x="126.3" y="330.50" width="6.5" height="5.88" fill="#fa8e12"/>
<text x="136.2" y="335.62" font-size="5.3" fill="#262626" stroke="none">ASCL3</text>
<rect x="126.3" y="336.34" width="6.5" height="5.88" fill="#29abe2"/>
<text x="136.2" y="341.45" font-size="5.3" fill="#262626" stroke="none">TEX261</text>
<rect x="126.3" y="342.17" width="6.5" height="5.88" fill="#fa8e12"/>
<text x="136.2" y="347.29" font-size="5.3" fill="#262626" stroke="none">CCAR1</text>
<rect x="126.3" y="348.00" width="6.5" height="5.88" fill="#29abe2"/>
<text x="136.2" y="353.12" font-size="5.3" fill="#262626" stroke="none">NCAPH2</text>
<rect x="126.3" y="353.84" width="6.5" height="5.88" fill="#29abe2"/>
<text x="136.2" y="358.95" font-size="5.3" fill="#262626" stroke="none">DBF4B</text>
<rect x="126.3" y="359.67" width="6.5" height="5.88" fill="#fa8e12"/>
<text x="136.2" y="364.79" font-size="5.3" fill="#262626" stroke="none">GNG5P2</text>
<rect x="126.3" y="365.50" width="6.5" height="5.88" fill="#bcbcc1"/>
<text x="136.2" y="370.62" font-size="5.3" fill="#262626" stroke="none">ATP2C2</text>
<rect x="126.3" y="371.33" width="6.5" height="5.88" fill="#fa8e12"/>
<text x="136.2" y="376.45" font-size="5.3" fill="#262626" stroke="none">POLB</text>
<rect x="126.3" y="377.17" width="6.5" height="5.88" fill="#29abe2"/>
<text x="136.2" y="382.28" font-size="5.3" fill="#262626" stroke="none">MMS19</text>
<line x1="41.1" y1="27" x2="41.1" y2="17.6" stroke="#8c8c8c" stroke-width="0.8"/>
<line x1="64.9" y1="27" x2="64.9" y2="17.6" stroke="#8c8c8c" stroke-width="0.8"/>
<line x1="41.1" y1="17.6" x2="64.9" y2="17.6" stroke="#8c8c8c" stroke-width="0.8"/>
<line x1="88.7" y1="27" x2="88.7" y2="18.4" stroke="#8c8c8c" stroke-width="0.8"/>
<line x1="112.5" y1="27" x2="112.5" y2="18.4" stroke="#8c8c8c" stroke-width="0.8"/>
<line x1="88.7" y1="18.4" x2="112.5" y2="18.4" stroke="#8c8c8c" stroke-width="0.8"/>
<line x1="53.0" y1="17.6" x2="53.0" y2="12.5" stroke="#8c8c8c" stroke-width="0.8"/>
<line x1="100.6" y1="18.4" x2="100.6" y2="12.5" stroke="#8c8c8c" stroke-width="0.8"/>
<line x1="53.0" y1="12.5" x2="100.6" y2="12.5" stroke="#8c8c8c" stroke-width="0.8"/>
<line x1="22.8" y1="41.781967213114754" x2="22.8" y2="70.94590163934427" stroke="#8a8a8a" stroke-width="0.8"/>
<line x1="22.8" y1="41.781967213114754" x2="25.5" y2="41.781967213114754" stroke="#8a8a8a" stroke-width="0.8"/>
<line x1="22.8" y1="70.94590163934427" x2="25.5" y2="70.94590163934427" stroke="#8a8a8a" stroke-width="0.8"/>
<line x1="25.5" y1="33.0327868852459" x2="25.5" y2="50.53114754098361" stroke="#8a8a8a" stroke-width="0.8"/>
<line x1="25.5" y1="65.11311475409836" x2="25.5" y2="79.69508196721311" stroke="#8a8a8a" stroke-width="0.8"/>
<line x1="25.5" y1="33.0327868852459" x2="28" y2="33.0327868852459" stroke="#8a8a8a" stroke-width="0.8"/>
<line x1="25.5" y1="50.53114754098361" x2="28" y2="50.53114754098361" stroke="#8a8a8a" stroke-width="0.8"/>
<line x1="25.5" y1="65.11311475409836" x2="28" y2="65.11311475409836" stroke="#8a8a8a" stroke-width="0.8"/>
<line x1="25.5" y1="79.69508196721311" x2="28" y2="79.69508196721311" stroke="#8a8a8a" stroke-width="0.8"/>
<line x1="22.8" y1="94.27704918032788" x2="22.8" y2="138.02295081967213" stroke="#8a8a8a" stroke-width="0.8"/>
<line x1="22.8" y1="94.27704918032788" x2="26" y2="94.27704918032788" stroke="#8a8a8a" stroke-width="0.8"/>
<line x1="22.8" y1="138.02295081967213" x2="26" y2="138.02295081967213" stroke="#8a8a8a" stroke-width="0.8"/>
<line x1="26" y1="88.44426229508197" x2="26" y2="105.94262295081968" stroke="#8a8a8a" stroke-width="0.8"/>
<line x1="26" y1="126.35737704918033" x2="26" y2="149.68852459016392" stroke="#8a8a8a" stroke-width="0.8"/>
<line x1="26" y1="88.44426229508197" x2="28" y2="88.44426229508197" stroke="#8a8a8a" stroke-width="0.8"/>
<line x1="26" y1="105.94262295081968" x2="28" y2="105.94262295081968" stroke="#8a8a8a" stroke-width="0.8"/>
<line x1="26" y1="126.35737704918033" x2="28" y2="126.35737704918033" stroke="#8a8a8a" stroke-width="0.8"/>
<line x1="26" y1="149.68852459016392" x2="28" y2="149.68852459016392" stroke="#8a8a8a" stroke-width="0.8"/>
<line x1="14.2" y1="55.5" x2="14.2" y2="108.4" stroke="#8a8a8a" stroke-width="0.8"/>
<line x1="14.2" y1="55.5" x2="22.8" y2="55.5" stroke="#8a8a8a" stroke-width="0.8"/>
<line x1="14.2" y1="108.4" x2="22.8" y2="108.4" stroke="#8a8a8a" stroke-width="0.8"/>
<line x1="14.6" y1="82" x2="14.6" y2="266" stroke="#8a8a8a" stroke-width="0.8"/>
<line x1="14.6" y1="266" x2="19" y2="266" stroke="#8a8a8a" stroke-width="0.8"/>
<line x1="19" y1="141.5" x2="19" y2="351" stroke="#8a8a8a" stroke-width="0.8"/>
<line x1="19" y1="141.5" x2="26.5" y2="141.5" stroke="#8a8a8a" stroke-width="0.8"/>
<line x1="19" y1="219.8" x2="26.5" y2="219.8" stroke="#8a8a8a" stroke-width="0.8"/>
<line x1="19" y1="351" x2="25.7" y2="351" stroke="#8a8a8a" stroke-width="0.8"/>
<line x1="26.5" y1="136" x2="26.5" y2="147" stroke="#8a8a8a" stroke-width="0.8"/>
<line x1="26.5" y1="136" x2="28.5" y2="136" stroke="#8a8a8a" stroke-width="0.8"/>
<line x1="26.5" y1="147" x2="28.5" y2="147" stroke="#8a8a8a" stroke-width="0.8"/>
<line x1="26.8" y1="152.8" x2="26.8" y2="286.7" stroke="#8a8a8a" stroke-width="0.8"/>
<line x1="26.8" y1="152.8" x2="28.5" y2="152.8" stroke="#8a8a8a" stroke-width="0.8"/>
<line x1="26.8" y1="286.7" x2="28.5" y2="286.7" stroke="#8a8a8a" stroke-width="0.8"/>
<line x1="25.7" y1="301" x2="25.7" y2="372.8" stroke="#8a8a8a" stroke-width="0.8"/>
<line x1="25.7" y1="301" x2="28" y2="301" stroke="#8a8a8a" stroke-width="0.8"/>
<line x1="25.7" y1="372.8" x2="28" y2="372.8" stroke="#8a8a8a" stroke-width="0.8"/>
<line x1="27.6" y1="290" x2="27.6" y2="340" stroke="#8a8a8a" stroke-width="0.8"/>
<line x1="27.6" y1="350" x2="27.6" y2="380" stroke="#8a8a8a" stroke-width="0.8"/>
<text x="170" y="31.8" font-size="7.9" fill="#222" textLength="62.6" lengthAdjust="spacingAndGlyphs" stroke="#222" stroke-width="0.1">Discretization level</text>
<circle cx="174.4" cy="41.1" r="4.5" fill="#fa8e12"/>
<text x="182.4" y="43.20" font-size="7.9" fill="#222" stroke="#222" stroke-width="0.1">High</text>
<circle cx="174.4" cy="52.9" r="4.5" fill="#bcbcc1"/>
<text x="182.4" y="55.00" font-size="7.9" fill="#222" stroke="#222" stroke-width="0.1">Medium</text>
<circle cx="174.4" cy="64.3" r="4.5" fill="#29abe2"/>
<text x="182.4" y="66.40" font-size="7.9" fill="#222" stroke="#222" stroke-width="0.1">Low</text>
<text x="170" y="84.9" font-size="7.9" fill="#222" textLength="58.5" lengthAdjust="spacingAndGlyphs" stroke="#222" stroke-width="0.1">Node connection</text>
<text x="170.6" y="96.0" font-size="7.8" fill="#222" stroke="#222" stroke-width="0.1">1</text>
<text x="217.2" y="96.0" font-size="7.8" fill="#222" stroke="#222" stroke-width="0.1">0</text>
<defs><linearGradient id="lg" x1="0" x2="1"><stop offset="0" stop-color="#8a2020"/><stop offset="0.3" stop-color="#c02c2c"/><stop offset="0.5" stop-color="#dc3a3a"/><stop offset="0.75" stop-color="#f0948a"/><stop offset="1" stop-color="#ffffff"/></linearGradient></defs>
<rect x="177.3" y="90.4" width="36.7" height="6.2" fill="url(#lg)"/>
<rect x="177.50" y="90.6" width="5.2" height="5.8" rx="1" fill="#8a2222" fill-opacity="0.55"/>
<rect x="183.10" y="90.6" width="5.2" height="5.8" rx="1" fill="#a82828" fill-opacity="0.55"/>
<rect x="188.70" y="90.6" width="5.2" height="5.8" rx="1" fill="#c42e2e" fill-opacity="0.55"/>
<rect x="194.30" y="90.6" width="5.2" height="5.8" rx="1" fill="#dc3c3c" fill-opacity="0.55"/>
<rect x="199.90" y="90.6" width="5.2" height="5.8" rx="1" fill="#e86a62" fill-opacity="0.55"/>
<rect x="205.50" y="90.6" width="5.2" height="5.8" rx="1" fill="#f3a89e" fill-opacity="0.55"/>
<text transform="translate(38.10,386.3) rotate(-90)" text-anchor="end" font-size="7.8" fill="#222" stroke="#222" stroke-width="0.1">TARGET</text>
<text transform="translate(47.30,386.3) rotate(-90)" text-anchor="end" font-size="7.8" fill="#222" stroke="#222" stroke-width="0.1">relapse</text>
<text transform="translate(61.90,386.3) rotate(-90)" text-anchor="end" font-size="7.8" fill="#222" stroke="#222" stroke-width="0.1">Local pediatric</text>
<text transform="translate(71.10,386.3) rotate(-90)" text-anchor="end" font-size="7.8" fill="#222" stroke="#222" stroke-width="0.1">relapse</text>
<text transform="translate(85.70,386.3) rotate(-90)" text-anchor="end" font-size="7.8" fill="#222" stroke="#222" stroke-width="0.1">TARGET</text>
<text transform="translate(94.90,386.3) rotate(-90)" text-anchor="end" font-size="7.8" fill="#222" stroke="#222" stroke-width="0.1">diagnosis</text>
<text transform="translate(109.50,386.3) rotate(-90)" text-anchor="end" font-size="7.8" fill="#222" stroke="#222" stroke-width="0.1">Local pediatric</text>
<text transform="translate(118.70,386.3) rotate(-90)" text-anchor="end" font-size="7.8" fill="#222" stroke="#222" stroke-width="0.1">diagnosis</text>
<text x="328.1" y="20.1" font-size="9.6" text-anchor="middle" fill="#222" textLength="59.2" lengthAdjust="spacingAndGlyphs" stroke="#222" stroke-width="0.1">Local pediatric</text>
<text x="328.1" y="30.5" font-size="9.6" text-anchor="middle" fill="#222" textLength="39.0" lengthAdjust="spacingAndGlyphs" stroke="#222" stroke-width="0.1">diagnosis</text>
<linearGradient id="g280_1" gradientUnits="userSpaceOnUse" x1="280.80" y1="0" x2="292.58" y2="0"><stop offset="0" stop-color="#af97bb"/><stop offset="0.5" stop-color="#764c8a"/><stop offset="1" stop-color="#4e1868"/></linearGradient>
<path d="M280.80,128.60 A5.89,11.42 0 0 1 292.58,128.60" fill="none" stroke="url(#g280_1)" stroke-width="1.7"/>
<linearGradient id="g280_2" gradientUnits="userSpaceOnUse" x1="280.80" y1="0" x2="304.36" y2="0"><stop offset="0" stop-color="#af97bb"/><stop offset="0.5" stop-color="#764c8a"/><stop offset="1" stop-color="#4e1868"/></linearGradient>
<path d="M280.80,128.60 A11.78,22.85 0 0 1 304.36,128.60" fill="none" stroke="url(#g280_2)" stroke-width="1.8"/>
<linearGradient id="g280_3" gradientUnits="userSpaceOnUse" x1="280.80" y1="0" x2="316.14" y2="0"><stop offset="0" stop-color="#cebfd5"/><stop offset="0.5" stop-color="#a083ae"/><stop offset="1" stop-color="#845f96"/></linearGradient>
<path d="M280.80,128.60 A17.67,34.27 0 0 1 316.14,128.60" fill="none" stroke="url(#g280_3)" stroke-width="1.25"/>
<linearGradient id="g280_4" gradientUnits="userSpaceOnUse" x1="280.80" y1="0" x2="327.92" y2="0"><stop offset="0" stop-color="#c3b1cc"/><stop offset="0.5" stop-color="#8e6b9f"/><stop offset="1" stop-color="#6a3d80"/></linearGradient>
<path d="M280.80,128.60 A23.56,45.70 0 0 1 327.92,128.60" fill="none" stroke="url(#g280_4)" stroke-width="1.5"/>
<linearGradient id="g280_5" gradientUnits="userSpaceOnUse" x1="280.80" y1="0" x2="339.70" y2="0"><stop offset="0" stop-color="#d7cbdd"/><stop offset="0.5" stop-color="#b199bc"/><stop offset="1" stop-color="#9c7eaa"/></linearGradient>
<path d="M280.80,128.60 A29.45,57.12 0 0 1 339.70,128.60" fill="none" stroke="url(#g280_5)" stroke-width="1.15"/>
<linearGradient id="g280_6" gradientUnits="userSpaceOnUse" x1="280.80" y1="0" x2="351.48" y2="0"><stop offset="0" stop-color="#e7e0eb"/><stop offset="0.5" stop-color="#ccbdd4"/><stop offset="1" stop-color="#c4b1cc"/></linearGradient>
<path d="M280.80,128.60 A35.34,68.55 0 0 1 351.48,128.60" fill="none" stroke="url(#g280_6)" stroke-width="1.0"/>
<linearGradient id="g280_7" gradientUnits="userSpaceOnUse" x1="280.80" y1="0" x2="363.26" y2="0"><stop offset="0" stop-color="#ebe5ee"/><stop offset="0.5" stop-color="#d3c6da"/><stop offset="1" stop-color="#cdbed5"/></linearGradient>
<path d="M280.80,128.60 A41.23,79.97 0 0 1 363.26,128.60" fill="none" stroke="url(#g280_7)" stroke-width="1.0"/>
<linearGradient id="g280_8" gradientUnits="userSpaceOnUse" x1="280.80" y1="0" x2="375.04" y2="0"><stop offset="0" stop-color="#f0ebf2"/><stop offset="0.5" stop-color="#dcd1e1"/><stop offset="1" stop-color="#d9cedf"/></linearGradient>
<path d="M280.80,128.60 A47.12,91.40 0 0 1 375.04,128.60" fill="none" stroke="url(#g280_8)" stroke-width="0.95"/>
<circle cx="280.80" cy="128.60" r="3.35" fill="#29abe2"/>
<circle cx="292.58" cy="128.60" r="1.4" fill="#29abe2"/>
<circle cx="304.36" cy="128.60" r="2.1" fill="#29abe2"/>
<circle cx="316.14" cy="128.60" r="1.5" fill="#bcbcc1"/>
<circle cx="327.92" cy="128.60" r="1.6" fill="#29abe2"/>
<circle cx="339.70" cy="128.60" r="1.8" fill="#fa8e12"/>
<circle cx="351.48" cy="128.60" r="2.3" fill="#29abe2"/>
<circle cx="363.26" cy="128.60" r="2.2" fill="#29abe2"/>
<circle cx="375.04" cy="128.60" r="2.2" fill="#29abe2"/>
<text transform="translate(282.65,135.00) rotate(-90)" text-anchor="end" font-size="5.4" fill="#d4213d" stroke="none">NFATC4</text>
<text transform="translate(294.43,135.00) rotate(-90)" text-anchor="end" font-size="5.4" fill="#2b2b2b" stroke="none">PMPCB</text>
<text transform="translate(306.21,135.00) rotate(-90)" text-anchor="end" font-size="5.4" fill="#2b2b2b" stroke="none">POLB</text>
<text transform="translate(317.99,135.00) rotate(-90)" text-anchor="end" font-size="5.4" fill="#2b2b2b" stroke="none">ATP2C2</text>
<text transform="translate(329.77,135.00) rotate(-90)" text-anchor="end" font-size="5.4" fill="#2b2b2b" stroke="none">DGCR14</text>
<text transform="translate(341.55,135.00) rotate(-90)" text-anchor="end" font-size="5.4" fill="#2b2b2b" stroke="none">BTN2A2</text>
<text transform="translate(353.33,135.00) rotate(-90)" text-anchor="end" font-size="5.4" fill="#2b2b2b" stroke="none">BTN2A2</text>
<text transform="translate(365.11,135.00) rotate(-90)" text-anchor="end" font-size="5.4" fill="#2b2b2b" stroke="none">KATNAL2</text>
<text transform="translate(376.89,135.00) rotate(-90)" text-anchor="end" font-size="5.4" fill="#2b2b2b" stroke="none">LRBA</text>
<text x="443.8" y="18.9" font-size="9.6" text-anchor="middle" fill="#222" textLength="36.1" lengthAdjust="spacingAndGlyphs" stroke="#222" stroke-width="0.1">TARGET</text>
<text x="443.8" y="30.6" font-size="9.6" text-anchor="middle" fill="#222" textLength="39.0" lengthAdjust="spacingAndGlyphs" stroke="#222" stroke-width="0.1">diagnosis</text>
<linearGradient id="g395_1" gradientUnits="userSpaceOnUse" x1="395.90" y1="0" x2="406.48" y2="0"><stop offset="0" stop-color="#b69fc0"/><stop offset="0.5" stop-color="#79508d"/><stop offset="1" stop-color="#4e1868"/></linearGradient>
<path d="M395.90,128.80 A5.29,10.16 0 0 1 406.48,128.80" fill="none" stroke="url(#g395_1)" stroke-width="1.8"/>
<linearGradient id="g395_2" gradientUnits="userSpaceOnUse" x1="395.90" y1="0" x2="417.06" y2="0"><stop offset="0" stop-color="#af97bb"/><stop offset="0.5" stop-color="#764c8a"/><stop offset="1" stop-color="#4e1868"/></linearGradient>
<path d="M395.90,128.80 A10.58,20.31 0 0 1 417.06,128.80" fill="none" stroke="url(#g395_2)" stroke-width="2.0"/>
<linearGradient id="g395_3" gradientUnits="userSpaceOnUse" x1="395.90" y1="0" x2="427.64" y2="0"><stop offset="0" stop-color="#b9a4c3"/><stop offset="0.5" stop-color="#7c548f"/><stop offset="1" stop-color="#511b6a"/></linearGradient>
<path d="M395.90,128.80 A15.87,30.47 0 0 1 427.64,128.80" fill="none" stroke="url(#g395_3)" stroke-width="1.75"/>
<linearGradient id="g395_4" gradientUnits="userSpaceOnUse" x1="395.90" y1="0" x2="438.22" y2="0"><stop offset="0" stop-color="#bca8c6"/><stop offset="0.5" stop-color="#815b94"/><stop offset="1" stop-color="#582671"/></linearGradient>
<path d="M395.90,128.80 A21.16,40.62 0 0 1 438.22,128.80" fill="none" stroke="url(#g395_4)" stroke-width="1.65"/>
<linearGradient id="g395_5" gradientUnits="userSpaceOnUse" x1="395.90" y1="0" x2="448.80" y2="0"><stop offset="0" stop-color="#c2b0cb"/><stop offset="0.5" stop-color="#8d6a9d"/><stop offset="1" stop-color="#683a7e"/></linearGradient>
<path d="M395.90,128.80 A26.45,50.78 0 0 1 448.80,128.80" fill="none" stroke="url(#g395_5)" stroke-width="1.55"/>
<linearGradient id="g395_6" gradientUnits="userSpaceOnUse" x1="395.90" y1="0" x2="459.38" y2="0"><stop offset="0" stop-color="#cabad2"/><stop offset="0.5" stop-color="#9a7ca9"/><stop offset="1" stop-color="#7c548f"/></linearGradient>
<path d="M395.90,128.80 A31.74,60.93 0 0 1 459.38,128.80" fill="none" stroke="url(#g395_6)" stroke-width="1.45"/>
<linearGradient id="g395_7" gradientUnits="userSpaceOnUse" x1="395.90" y1="0" x2="469.96" y2="0"><stop offset="0" stop-color="#d6c9dc"/><stop offset="0.5" stop-color="#ae95ba"/><stop offset="1" stop-color="#9878a7"/></linearGradient>
<path d="M395.90,128.80 A37.03,71.09 0 0 1 469.96,128.80" fill="none" stroke="url(#g395_7)" stroke-width="1.3"/>
<linearGradient id="g395_8" gradientUnits="userSpaceOnUse" x1="395.90" y1="0" x2="480.54" y2="0"><stop offset="0" stop-color="#e1d7e5"/><stop offset="0.5" stop-color="#c1afca"/><stop offset="1" stop-color="#b49dbf"/></linearGradient>
<path d="M395.90,128.80 A42.32,81.24 0 0 1 480.54,128.80" fill="none" stroke="url(#g395_8)" stroke-width="1.1"/>
<linearGradient id="g395_9" gradientUnits="userSpaceOnUse" x1="395.90" y1="0" x2="491.12" y2="0"><stop offset="0" stop-color="#efeaf1"/><stop offset="0.5" stop-color="#dacfe0"/><stop offset="1" stop-color="#d7cbdd"/></linearGradient>
<path d="M395.90,128.80 A47.61,91.40 0 0 1 491.12,128.80" fill="none" stroke="url(#g395_9)" stroke-width="0.95"/>
<circle cx="395.90" cy="128.80" r="3.4" fill="#29abe2"/>
<circle cx="406.48" cy="128.80" r="1.5" fill="#29abe2"/>
<circle cx="417.06" cy="128.80" r="2.2" fill="#29abe2"/>
<circle cx="427.64" cy="128.80" r="2.0" fill="#29abe2"/>
<circle cx="438.22" cy="128.80" r="2.0" fill="#bcbcc1"/>
<circle cx="448.80" cy="128.80" r="2.5" fill="#29abe2"/>
<circle cx="459.38" cy="128.80" r="1.5" fill="#fa8e12"/>
<circle cx="469.96" cy="128.80" r="1.8" fill="#bcbcc1"/>
<circle cx="480.54" cy="128.80" r="1.3" fill="#29abe2"/>
<circle cx="491.12" cy="128.80" r="1.3" fill="#fa8e12"/>
<text transform="translate(397.75,135.20) rotate(-90)" text-anchor="end" font-size="5.4" fill="#d4213d" stroke="none">CARM1</text>
<text transform="translate(408.33,135.20) rotate(-90)" text-anchor="end" font-size="5.4" fill="#2b2b2b" stroke="none">DGCR14</text>
<text transform="translate(418.91,135.20) rotate(-90)" text-anchor="end" font-size="5.4" fill="#2b2b2b" stroke="none">KATNAL2</text>
<text transform="translate(429.49,135.20) rotate(-90)" text-anchor="end" font-size="5.4" fill="#2b2b2b" stroke="none">BTN2A2</text>
<text transform="translate(440.07,135.20) rotate(-90)" text-anchor="end" font-size="5.4" fill="#2b2b2b" stroke="none">BTN2A2</text>
<text transform="translate(450.65,135.20) rotate(-90)" text-anchor="end" font-size="5.4" fill="#2b2b2b" stroke="none">NFATC4</text>
<text transform="translate(461.23,135.20) rotate(-90)" text-anchor="end" font-size="5.4" fill="#2b2b2b" stroke="none">POLB</text>
<text transform="translate(471.81,135.20) rotate(-90)" text-anchor="end" font-size="5.4" fill="#2b2b2b" stroke="none">KATNAL2</text>
<text transform="translate(482.39,135.20) rotate(-90)" text-anchor="end" font-size="5.4" fill="#2b2b2b" stroke="none">LRBA</text>
<text transform="translate(492.97,135.20) rotate(-90)" text-anchor="end" font-size="5.4" fill="#2b2b2b" stroke="none">NFATC4</text>
<text x="328.1" y="180.1" font-size="9.6" text-anchor="middle" fill="#222" textLength="59.2" lengthAdjust="spacingAndGlyphs" stroke="#222" stroke-width="0.1">Local pediatric</text>
<text x="328.1" y="190.8" font-size="9.6" text-anchor="middle" fill="#222" textLength="29.9" lengthAdjust="spacingAndGlyphs" stroke="#222" stroke-width="0.1">relapse</text>
<linearGradient id="g278_1" gradientUnits="userSpaceOnUse" x1="278.80" y1="0" x2="286.98" y2="0"><stop offset="0" stop-color="#af97bb"/><stop offset="0.5" stop-color="#764c8a"/><stop offset="1" stop-color="#4e1868"/></linearGradient>
<path d="M278.80,288.80 A4.09,7.62 0 0 1 286.98,288.80" fill="none" stroke="url(#g278_1)" stroke-width="1.7"/>
<linearGradient id="g278_2" gradientUnits="userSpaceOnUse" x1="278.80" y1="0" x2="295.16" y2="0"><stop offset="0" stop-color="#c9b8d1"/><stop offset="0.5" stop-color="#9878a7"/><stop offset="1" stop-color="#784f8c"/></linearGradient>
<path d="M278.80,288.80 A8.18,15.23 0 0 1 295.16,288.80" fill="none" stroke="url(#g278_2)" stroke-width="1.3"/>
<linearGradient id="g278_3" gradientUnits="userSpaceOnUse" x1="278.80" y1="0" x2="303.34" y2="0"><stop offset="0" stop-color="#c1aeca"/><stop offset="0.5" stop-color="#8a669b"/><stop offset="1" stop-color="#64357b"/></linearGradient>
<path d="M278.80,288.80 A12.27,22.85 0 0 1 303.34,288.80" fill="none" stroke="url(#g278_3)" stroke-width="1.4"/>
<linearGradient id="g278_4" gradientUnits="userSpaceOnUse" x1="278.80" y1="0" x2="311.52" y2="0"><stop offset="0" stop-color="#cfc1d6"/><stop offset="0.5" stop-color="#a387b0"/><stop offset="1" stop-color="#88649a"/></linearGradient>
<path d="M278.80,288.80 A16.36,30.47 0 0 1 311.52,288.80" fill="none" stroke="url(#g278_4)" stroke-width="1.2"/>
<linearGradient id="g278_5" gradientUnits="userSpaceOnUse" x1="278.80" y1="0" x2="319.70" y2="0"><stop offset="0" stop-color="#d2c4d8"/><stop offset="0.5" stop-color="#a78cb4"/><stop offset="1" stop-color="#8e6c9f"/></linearGradient>
<path d="M278.80,288.80 A20.45,38.08 0 0 1 319.70,288.80" fill="none" stroke="url(#g278_5)" stroke-width="1.2"/>
<linearGradient id="g278_6" gradientUnits="userSpaceOnUse" x1="278.80" y1="0" x2="327.88" y2="0"><stop offset="0" stop-color="#d7cbdd"/><stop offset="0.5" stop-color="#b199bc"/><stop offset="1" stop-color="#9c7eaa"/></linearGradient>
<path d="M278.80,288.80 A24.54,45.70 0 0 1 327.88,288.80" fill="none" stroke="url(#g278_6)" stroke-width="1.15"/>
<linearGradient id="g278_7" gradientUnits="userSpaceOnUse" x1="278.80" y1="0" x2="336.06" y2="0"><stop offset="0" stop-color="#dacedf"/><stop offset="0.5" stop-color="#b59ec0"/><stop offset="1" stop-color="#a285b0"/></linearGradient>
<path d="M278.80,288.80 A28.63,53.32 0 0 1 336.06,288.80" fill="none" stroke="url(#g278_7)" stroke-width="1.1"/>
<linearGradient id="g278_8" gradientUnits="userSpaceOnUse" x1="278.80" y1="0" x2="344.24" y2="0"><stop offset="0" stop-color="#ded3e2"/><stop offset="0.5" stop-color="#bca7c6"/><stop offset="1" stop-color="#ac92b8"/></linearGradient>
<path d="M278.80,288.80 A32.72,60.93 0 0 1 344.24,288.80" fill="none" stroke="url(#g278_8)" stroke-width="1.05"/>
<linearGradient id="g278_9" gradientUnits="userSpaceOnUse" x1="278.80" y1="0" x2="352.42" y2="0"><stop offset="0" stop-color="#e1d7e5"/><stop offset="0.5" stop-color="#c1afca"/><stop offset="1" stop-color="#b49dbf"/></linearGradient>
<path d="M278.80,288.80 A36.81,68.55 0 0 1 352.42,288.80" fill="none" stroke="url(#g278_9)" stroke-width="1.05"/>
<linearGradient id="g278_10" gradientUnits="userSpaceOnUse" x1="278.80" y1="0" x2="360.60" y2="0"><stop offset="0" stop-color="#e6dfea"/><stop offset="0.5" stop-color="#cbbbd3"/><stop offset="1" stop-color="#c2afcb"/></linearGradient>
<path d="M278.80,288.80 A40.90,76.17 0 0 1 360.60,288.80" fill="none" stroke="url(#g278_10)" stroke-width="1.0"/>
<linearGradient id="g278_11" gradientUnits="userSpaceOnUse" x1="278.80" y1="0" x2="368.78" y2="0"><stop offset="0" stop-color="#ece6ef"/><stop offset="0.5" stop-color="#d5c8db"/><stop offset="1" stop-color="#cfc1d6"/></linearGradient>
<path d="M278.80,288.80 A44.99,83.78 0 0 1 368.78,288.80" fill="none" stroke="url(#g278_11)" stroke-width="0.95"/>
<linearGradient id="g278_12" gradientUnits="userSpaceOnUse" x1="278.80" y1="0" x2="376.96" y2="0"><stop offset="0" stop-color="#f3eff5"/><stop offset="0.5" stop-color="#e1d8e6"/><stop offset="1" stop-color="#e1d8e6"/></linearGradient>
<path d="M278.80,288.80 A49.08,91.40 0 0 1 376.96,288.80" fill="none" stroke="url(#g278_12)" stroke-width="0.9"/>
<circle cx="278.80" cy="288.80" r="3.2" fill="#bcbcc1"/>
<circle cx="286.98" cy="288.80" r="1.5" fill="#bcbcc1"/>
<circle cx="295.16" cy="288.80" r="2.5" fill="#bcbcc1"/>
<circle cx="303.34" cy="288.80" r="2.0" fill="#fa8e12"/>
<circle cx="311.52" cy="288.80" r="2.5" fill="#fa8e12"/>
<circle cx="319.70" cy="288.80" r="2.0" fill="#fa8e12"/>
<circle cx="327.88" cy="288.80" r="2.5" fill="#fa8e12"/>
<circle cx="336.06" cy="288.80" r="2.3" fill="#fa8e12"/>
<circle cx="344.24" cy="288.80" r="1.3" fill="#bcbcc1"/>
<circle cx="352.42" cy="288.80" r="2.0" fill="#fa8e12"/>
<circle cx="360.60" cy="288.80" r="1.5" fill="#bcbcc1"/>
<circle cx="368.78" cy="288.80" r="1.5" fill="#fa8e12"/>
<circle cx="376.96" cy="288.80" r="1.2" fill="#bcbcc1"/>
<text transform="translate(280.65,295.20) rotate(-90)" text-anchor="end" font-size="5.4" fill="#d4213d" stroke="none">NFATC4</text>
<text transform="translate(288.83,295.20) rotate(-90)" text-anchor="end" font-size="5.4" fill="#2b2b2b" stroke="none">LRBA</text>
<text transform="translate(297.01,295.20) rotate(-90)" text-anchor="end" font-size="5.4" fill="#2b2b2b" stroke="none">BTN2A2</text>
<text transform="translate(305.19,295.20) rotate(-90)" text-anchor="end" font-size="5.4" fill="#2b2b2b" stroke="none">BTN2A2</text>
<text transform="translate(313.37,295.20) rotate(-90)" text-anchor="end" font-size="5.4" fill="#2b2b2b" stroke="none">PMPCB</text>
<text transform="translate(321.55,295.20) rotate(-90)" text-anchor="end" font-size="5.4" fill="#2b2b2b" stroke="none">DGCR14</text>
<text transform="translate(329.73,295.20) rotate(-90)" text-anchor="end" font-size="5.4" fill="#2b2b2b" stroke="none">KATNAL2</text>
<text transform="translate(337.91,295.20) rotate(-90)" text-anchor="end" font-size="5.4" fill="#2b2b2b" stroke="none">TUB</text>
<text transform="translate(346.09,295.20) rotate(-90)" text-anchor="end" font-size="5.4" fill="#2b2b2b" stroke="none">VPS33B</text>
<text transform="translate(354.27,295.20) rotate(-90)" text-anchor="end" font-size="5.4" fill="#2b2b2b" stroke="none">ATP2C2</text>
<text transform="translate(362.45,295.20) rotate(-90)" text-anchor="end" font-size="5.4" fill="#2b2b2b" stroke="none">KATNAL2</text>
<text transform="translate(370.63,295.20) rotate(-90)" text-anchor="end" font-size="5.4" fill="#2b2b2b" stroke="none">LRBA</text>
<text transform="translate(378.81,295.20) rotate(-90)" text-anchor="end" font-size="5.4" fill="#2b2b2b" stroke="none">ATP2C2</text>
<text x="443.8" y="179.1" font-size="9.6" text-anchor="middle" fill="#222" textLength="36.1" lengthAdjust="spacingAndGlyphs" stroke="#222" stroke-width="0.1">TARGET</text>
<text x="443.8" y="191.0" font-size="9.6" text-anchor="middle" fill="#222" textLength="29.9" lengthAdjust="spacingAndGlyphs" stroke="#222" stroke-width="0.1">relapse</text>
<linearGradient id="g393_1" gradientUnits="userSpaceOnUse" x1="393.50" y1="0" x2="399.40" y2="0"><stop offset="0" stop-color="#af97bb"/><stop offset="0.5" stop-color="#764c8a"/><stop offset="1" stop-color="#4e1868"/></linearGradient>
<path d="M393.50,289.20 A2.95,5.38 0 0 1 399.40,289.20" fill="none" stroke="url(#g393_1)" stroke-width="1.7"/>
<linearGradient id="g393_2" gradientUnits="userSpaceOnUse" x1="393.50" y1="0" x2="405.30" y2="0"><stop offset="0" stop-color="#af97bb"/><stop offset="0.5" stop-color="#764c8a"/><stop offset="1" stop-color="#4e1868"/></linearGradient>
<path d="M393.50,289.20 A5.90,10.75 0 0 1 405.30,289.20" fill="none" stroke="url(#g393_2)" stroke-width="1.8"/>
<linearGradient id="g393_3" gradientUnits="userSpaceOnUse" x1="393.50" y1="0" x2="411.20" y2="0"><stop offset="0" stop-color="#b39cbe"/><stop offset="0.5" stop-color="#784f8c"/><stop offset="1" stop-color="#4e1868"/></linearGradient>
<path d="M393.50,289.20 A8.85,16.13 0 0 1 411.20,289.20" fill="none" stroke="url(#g393_3)" stroke-width="1.75"/>
<linearGradient id="g393_4" gradientUnits="userSpaceOnUse" x1="393.50" y1="0" x2="417.10" y2="0"><stop offset="0" stop-color="#beaac7"/><stop offset="0.5" stop-color="#845f96"/><stop offset="1" stop-color="#5c2b74"/></linearGradient>
<path d="M393.50,289.20 A11.80,21.51 0 0 1 417.10,289.20" fill="none" stroke="url(#g393_4)" stroke-width="1.5"/>
<linearGradient id="g393_5" gradientUnits="userSpaceOnUse" x1="393.50" y1="0" x2="423.00" y2="0"><stop offset="0" stop-color="#bfacc9"/><stop offset="0.5" stop-color="#876299"/><stop offset="1" stop-color="#603078"/></linearGradient>
<path d="M393.50,289.20 A14.75,26.88 0 0 1 423.00,289.20" fill="none" stroke="url(#g393_5)" stroke-width="1.5"/>
<linearGradient id="g393_6" gradientUnits="userSpaceOnUse" x1="393.50" y1="0" x2="428.90" y2="0"><stop offset="0" stop-color="#c2b0cb"/><stop offset="0.5" stop-color="#8d6a9d"/><stop offset="1" stop-color="#683a7e"/></linearGradient>
<path d="M393.50,289.20 A17.70,32.26 0 0 1 428.90,289.20" fill="none" stroke="url(#g393_6)" stroke-width="1.45"/>
<linearGradient id="g393_7" gradientUnits="userSpaceOnUse" x1="393.50" y1="0" x2="434.80" y2="0"><stop offset="0" stop-color="#c4b2cd"/><stop offset="0.5" stop-color="#8f6da0"/><stop offset="1" stop-color="#6c4082"/></linearGradient>
<path d="M393.50,289.20 A20.65,37.64 0 0 1 434.80,289.20" fill="none" stroke="url(#g393_7)" stroke-width="1.45"/>
<linearGradient id="g393_8" gradientUnits="userSpaceOnUse" x1="393.50" y1="0" x2="440.70" y2="0"><stop offset="0" stop-color="#c7b6cf"/><stop offset="0.5" stop-color="#9575a4"/><stop offset="1" stop-color="#744a89"/></linearGradient>
<path d="M393.50,289.20 A23.60,43.01 0 0 1 440.70,289.20" fill="none" stroke="url(#g393_8)" stroke-width="1.4"/>
<linearGradient id="g393_9" gradientUnits="userSpaceOnUse" x1="393.50" y1="0" x2="446.60" y2="0"><stop offset="0" stop-color="#cbbbd3"/><stop offset="0.5" stop-color="#9c7eaa"/><stop offset="1" stop-color="#7e5791"/></linearGradient>
<path d="M393.50,289.20 A26.55,48.39 0 0 1 446.60,289.20" fill="none" stroke="url(#g393_9)" stroke-width="1.35"/>
<linearGradient id="g393_10" gradientUnits="userSpaceOnUse" x1="393.50" y1="0" x2="452.50" y2="0"><stop offset="0" stop-color="#cfc1d6"/><stop offset="0.5" stop-color="#a387b0"/><stop offset="1" stop-color="#88649a"/></linearGradient>
<path d="M393.50,289.20 A29.50,53.76 0 0 1 452.50,289.20" fill="none" stroke="url(#g393_10)" stroke-width="1.3"/>
<linearGradient id="g393_11" gradientUnits="userSpaceOnUse" x1="393.50" y1="0" x2="458.40" y2="0"><stop offset="0" stop-color="#d4c7da"/><stop offset="0.5" stop-color="#ab92b7"/><stop offset="1" stop-color="#9473a4"/></linearGradient>
<path d="M393.50,289.20 A32.45,59.14 0 0 1 458.40,289.20" fill="none" stroke="url(#g393_11)" stroke-width="1.25"/>
<linearGradient id="g393_12" gradientUnits="userSpaceOnUse" x1="393.50" y1="0" x2="464.30" y2="0"><stop offset="0" stop-color="#d9cdde"/><stop offset="0.5" stop-color="#b39cbf"/><stop offset="1" stop-color="#a083ae"/></linearGradient>
<path d="M393.50,289.20 A35.40,64.52 0 0 1 464.30,289.20" fill="none" stroke="url(#g393_12)" stroke-width="1.2"/>
<linearGradient id="g393_13" gradientUnits="userSpaceOnUse" x1="393.50" y1="0" x2="470.20" y2="0"><stop offset="0" stop-color="#ded3e2"/><stop offset="0.5" stop-color="#bca7c6"/><stop offset="1" stop-color="#ac92b8"/></linearGradient>
<path d="M393.50,289.20 A38.35,69.89 0 0 1 470.20,289.20" fill="none" stroke="url(#g393_13)" stroke-width="1.1"/>
<linearGradient id="g393_14" gradientUnits="userSpaceOnUse" x1="393.50" y1="0" x2="476.10" y2="0"><stop offset="0" stop-color="#e3dbe7"/><stop offset="0.5" stop-color="#c6b4ce"/><stop offset="1" stop-color="#baa4c4"/></linearGradient>
<path d="M393.50,289.20 A41.30,75.27 0 0 1 476.10,289.20" fill="none" stroke="url(#g393_14)" stroke-width="1.05"/>
<linearGradient id="g393_15" gradientUnits="userSpaceOnUse" x1="393.50" y1="0" x2="482.00" y2="0"><stop offset="0" stop-color="#e9e2ec"/><stop offset="0.5" stop-color="#cfc1d6"/><stop offset="1" stop-color="#c7b7d0"/></linearGradient>
<path d="M393.50,289.20 A44.25,80.65 0 0 1 482.00,289.20" fill="none" stroke="url(#g393_15)" stroke-width="1.0"/>
<linearGradient id="g393_16" gradientUnits="userSpaceOnUse" x1="393.50" y1="0" x2="487.90" y2="0"><stop offset="0" stop-color="#eee9f1"/><stop offset="0.5" stop-color="#d9cddf"/><stop offset="1" stop-color="#d5c9db"/></linearGradient>
<path d="M393.50,289.20 A47.20,86.02 0 0 1 487.90,289.20" fill="none" stroke="url(#g393_16)" stroke-width="0.95"/>
<linearGradient id="g393_17" gradientUnits="userSpaceOnUse" x1="393.50" y1="0" x2="493.80" y2="0"><stop offset="0" stop-color="#f3eff5"/><stop offset="0.5" stop-color="#e1d8e6"/><stop offset="1" stop-color="#e1d8e6"/></linearGradient>
<path d="M393.50,289.20 A50.15,91.40 0 0 1 493.80,289.20" fill="none" stroke="url(#g393_17)" stroke-width="0.9"/>
<circle cx="393.50" cy="289.20" r="3.2" fill="#fa8e12"/>
<circle cx="399.40" cy="289.20" r="2.4" fill="#fa8e12"/>
<circle cx="405.30" cy="289.20" r="2.5" fill="#fa8e12"/>
<circle cx="411.20" cy="289.20" r="1.4" fill="#bcbcc1"/>
<circle cx="417.10" cy="289.20" r="1.6" fill="#bcbcc1"/>
<circle cx="423.00" cy="289.20" r="1.6" fill="#bcbcc1"/>
<circle cx="428.90" cy="289.20" r="1.3" fill="#bcbcc1"/>
<circle cx="434.80" cy="289.20" r="2.0" fill="#fa8e12"/>
<circle cx="440.70" cy="289.20" r="1.7" fill="#bcbcc1"/>
<circle cx="446.60" cy="289.20" r="2.6" fill="#29abe2"/>
<circle cx="452.50" cy="289.20" r="1.3" fill="#bcbcc1"/>
<circle cx="458.40" cy="289.20" r="1.3" fill="#bcbcc1"/>
<circle cx="464.30" cy="289.20" r="1.1" fill="#29abe2"/>
<circle cx="470.20" cy="289.20" r="1.1" fill="#29abe2"/>
<circle cx="476.10" cy="289.20" r="2.8" fill="#fa8e12"/>
<circle cx="482.00" cy="289.20" r="1.1" fill="#29abe2"/>
<circle cx="487.90" cy="289.20" r="1.1" fill="#29abe2"/>
<circle cx="493.80" cy="289.20" r="1.3" fill="#fa8e12"/>
<text transform="translate(395.35,295.60) rotate(-90)" text-anchor="end" font-size="5.4" fill="#d4213d" stroke="none">NFATC4</text>
<text transform="translate(401.25,295.60) rotate(-90)" text-anchor="end" font-size="5.4" fill="#2b2b2b" stroke="none">ATP2C2</text>
<text transform="translate(407.15,295.60) rotate(-90)" text-anchor="end" font-size="5.4" fill="#2b2b2b" stroke="none">CCDC42B</text>
<text transform="translate(413.05,295.60) rotate(-90)" text-anchor="end" font-size="5.4" fill="#2b2b2b" stroke="none">DBF4B</text>
<text transform="translate(418.95,295.60) rotate(-90)" text-anchor="end" font-size="5.4" fill="#2b2b2b" stroke="none">FRMD4A</text>
<text transform="translate(424.85,295.60) rotate(-90)" text-anchor="end" font-size="5.4" fill="#2b2b2b" stroke="none">LRBA</text>
<text transform="translate(430.75,295.60) rotate(-90)" text-anchor="end" font-size="5.4" fill="#2b2b2b" stroke="none">NUCKS1</text>
<text transform="translate(436.65,295.60) rotate(-90)" text-anchor="end" font-size="5.4" fill="#2b2b2b" stroke="none">BTN2A2</text>
<text transform="translate(442.55,295.60) rotate(-90)" text-anchor="end" font-size="5.4" fill="#2b2b2b" stroke="none">CARM1</text>
<text transform="translate(448.45,295.60) rotate(-90)" text-anchor="end" font-size="5.4" fill="#2b2b2b" stroke="none">GNG5P2</text>
<text transform="translate(454.35,295.60) rotate(-90)" text-anchor="end" font-size="5.4" fill="#2b2b2b" stroke="none">BTN2A2</text>
<text transform="translate(460.25,295.60) rotate(-90)" text-anchor="end" font-size="5.4" fill="#2b2b2b" stroke="none">KATNAL2</text>
<text transform="translate(466.15,295.60) rotate(-90)" text-anchor="end" font-size="5.4" fill="#2b2b2b" stroke="none">PMPCB</text>
<text transform="translate(472.05,295.60) rotate(-90)" text-anchor="end" font-size="5.4" fill="#2b2b2b" stroke="none">CCAR1</text>
<text transform="translate(477.95,295.60) rotate(-90)" text-anchor="end" font-size="5.4" fill="#2b2b2b" stroke="none">KATNAL2</text>
<text transform="translate(483.85,295.60) rotate(-90)" text-anchor="end" font-size="5.4" fill="#2b2b2b" stroke="none">DGCR14</text>
<text transform="translate(489.75,295.60) rotate(-90)" text-anchor="end" font-size="5.4" fill="#2b2b2b" stroke="none">MMS19</text>
<text transform="translate(495.65,295.60) rotate(-90)" text-anchor="end" font-size="5.4" fill="#2b2b2b" stroke="none">MMS19</text>
<text x="276.3" y="342.9" font-size="7.7" fill="#222" stroke="#222" stroke-width="0.1">Discretization level</text>
<circle cx="280.5" cy="352.5" r="4" fill="#fa8e12"/>
<text x="288.8" y="355.3" font-size="7.6" fill="#222" stroke="#222" stroke-width="0.1">High</text>
<circle cx="280.5" cy="363.1" r="4" fill="#bcbcc1"/>
<text x="288.8" y="365.90000000000003" font-size="7.6" fill="#222" stroke="#222" stroke-width="0.1">Medium</text>
<circle cx="280.5" cy="374.3" r="4" fill="#29abe2"/>
<text x="288.8" y="377.1" font-size="7.6" fill="#222" stroke="#222" stroke-width="0.1">Low</text>
<text x="354.5" y="342.9" font-size="7.7" fill="#222" stroke="#222" stroke-width="0.1">Edge connection</text>
<rect x="354.5" y="350.6" width="33" height="3.6" fill="#4a1270"/>
<rect x="354.5" y="362.1" width="33" height="1.0" fill="#5a2a7a"/>
<text x="391.3" y="355.3" font-size="7.6" fill="#222" stroke="#222" stroke-width="0.1">Strong</text>
<text x="391.3" y="365.8" font-size="7.6" fill="#222" stroke="#222" stroke-width="0.1">Weak</text>
<text x="429.5" y="342.9" font-size="7.7" fill="#222" stroke="#222" stroke-width="0.1">Node connection</text>
<circle cx="433.75" cy="352.5" r="4.3" fill="none" stroke="#2f8a78" stroke-width="0.9"/>
<circle cx="433.75" cy="363.1" r="2.9" fill="none" stroke="#6fb5a5" stroke-width="0.8"/>
<text x="443.75" y="355.3" font-size="7.6" fill="#222" stroke="#222" stroke-width="0.1">Strong</text>
<text x="443.75" y="365.8" font-size="7.6" fill="#222" stroke="#222" stroke-width="0.1">Weak</text>
<line x1="35.7" y1="536.4" x2="125.5" y2="536.4" stroke="#cfe9cf" stroke-width="0.8"/>
<line x1="35.7" y1="555.4" x2="125.5" y2="555.4" stroke="#cfe9cf" stroke-width="0.8"/>
<line x1="35.7" y1="485.7" x2="35.7" y2="577.0" stroke="#111" stroke-width="1.25"/>
<line x1="35.1" y1="576.4" x2="125.5" y2="576.4" stroke="#111" stroke-width="1.25"/>
<line x1="33.5" y1="486.30" x2="35.7" y2="486.30" stroke="#111" stroke-width="0.9"/>
<text x="29.90" y="489.10" font-size="8" text-anchor="end" fill="#1a1a1a" stroke="#1a1a1a" stroke-width="0.1">4</text>
<line x1="33.5" y1="496.31" x2="35.7" y2="496.31" stroke="#111" stroke-width="0.9"/>
<text x="29.90" y="499.11" font-size="8" text-anchor="end" fill="#1a1a1a" stroke="#1a1a1a" stroke-width="0.1">3</text>
<line x1="33.5" y1="506.32" x2="35.7" y2="506.32" stroke="#111" stroke-width="0.9"/>
<text x="29.90" y="509.12" font-size="8" text-anchor="end" fill="#1a1a1a" stroke="#1a1a1a" stroke-width="0.1">2</text>
<line x1="33.5" y1="516.33" x2="35.7" y2="516.33" stroke="#111" stroke-width="0.9"/>
<text x="29.90" y="519.13" font-size="8" text-anchor="end" fill="#1a1a1a" stroke="#1a1a1a" stroke-width="0.1">1</text>
<line x1="33.5" y1="526.34" x2="35.7" y2="526.34" stroke="#111" stroke-width="0.9"/>
<text x="29.90" y="529.14" font-size="8" text-anchor="end" fill="#1a1a1a" stroke="#1a1a1a" stroke-width="0.1">0</text>
<line x1="33.5" y1="536.35" x2="35.7" y2="536.35" stroke="#111" stroke-width="0.9"/>
<text x="29.90" y="539.15" font-size="8" text-anchor="end" fill="#1a1a1a" stroke="#1a1a1a" stroke-width="0.1">−1</text>
<line x1="33.5" y1="546.36" x2="35.7" y2="546.36" stroke="#111" stroke-width="0.9"/>
<text x="29.90" y="549.16" font-size="8" text-anchor="end" fill="#1a1a1a" stroke="#1a1a1a" stroke-width="0.1">−2</text>
<line x1="33.5" y1="556.37" x2="35.7" y2="556.37" stroke="#111" stroke-width="0.9"/>
<text x="29.90" y="559.17" font-size="8" text-anchor="end" fill="#1a1a1a" stroke="#1a1a1a" stroke-width="0.1">−3</text>
<line x1="33.5" y1="566.38" x2="35.7" y2="566.38" stroke="#111" stroke-width="0.9"/>
<text x="29.90" y="569.18" font-size="8" text-anchor="end" fill="#1a1a1a" stroke="#1a1a1a" stroke-width="0.1">−4</text>
<line x1="33.5" y1="576.39" x2="35.7" y2="576.39" stroke="#111" stroke-width="0.9"/>
<text x="29.90" y="579.19" font-size="8" text-anchor="end" fill="#1a1a1a" stroke="#1a1a1a" stroke-width="0.1">−5</text>
<line x1="61.3" y1="576.4" x2="61.3" y2="578.4" stroke="#111" stroke-width="0.9"/>
<line x1="100.2" y1="576.4" x2="100.2" y2="578.4" stroke="#111" stroke-width="0.9"/>
<text x="61.3" y="589.6" font-size="8.2" text-anchor="middle" fill="#1a1a1a" textLength="33.5" lengthAdjust="spacingAndGlyphs" stroke="#1a1a1a" stroke-width="0.1">Diagnosis</text>
<text x="100.2" y="589.6" font-size="8.2" text-anchor="middle" fill="#1a1a1a" textLength="28" lengthAdjust="spacingAndGlyphs" stroke="#1a1a1a" stroke-width="0.1">Relapse</text>
<text x="80.6" y="465.9" font-size="9.6" text-anchor="middle" fill="#222" textLength="60" lengthAdjust="spacingAndGlyphs" stroke="#222" stroke-width="0.1">Local pediatric</text>
<text x="80.45" y="479.6" font-size="8.3" text-anchor="middle" fill="#222" textLength="39.7" lengthAdjust="spacingAndGlyphs" stroke="#222" stroke-width="0.1">P = 0.0012</text>
<line x1="60.6" y1="482.9" x2="100.3" y2="482.9" stroke="#333" stroke-width="1.1"/>
<line x1="61.0" y1="482.9" x2="61.0" y2="484.3" stroke="#333" stroke-width="0.8"/>
<line x1="99.89999999999999" y1="482.9" x2="99.89999999999999" y2="484.3" stroke="#333" stroke-width="0.8"/>
<circle cx="59.2" cy="502.2" r="1.35" fill="#d0112b"/>
<circle cx="63.2" cy="498.7" r="1.35" fill="#d0112b"/>
<circle cx="59.2" cy="533.7" r="1.35" fill="#d0112b"/>
<circle cx="63.2" cy="537.5" r="1.35" fill="#d0112b"/>
<circle cx="61.3" cy="541.8" r="1.35" fill="#d0112b"/>
<circle cx="52.8" cy="555.5" r="1.35" fill="#d0112b"/>
<circle cx="57.2" cy="556.2" r="1.35" fill="#d0112b"/>
<circle cx="61.3" cy="557.5" r="1.35" fill="#d0112b"/>
<circle cx="65.6" cy="555.6" r="1.35" fill="#d0112b"/>
<circle cx="69.6" cy="554.6" r="1.35" fill="#d0112b"/>
<circle cx="50.2" cy="560.3" r="1.35" fill="#d0112b"/>
<circle cx="54" cy="562.6" r="1.35" fill="#d0112b"/>
<circle cx="57.5" cy="562.7" r="1.35" fill="#d0112b"/>
<circle cx="61.3" cy="564.1" r="1.35" fill="#d0112b"/>
<circle cx="64.9" cy="564.1" r="1.35" fill="#d0112b"/>
<circle cx="68.7" cy="562.7" r="1.35" fill="#d0112b"/>
<circle cx="72.2" cy="561.7" r="1.35" fill="#d0112b"/>
<rect x="98.95" y="488.25" width="2.5" height="2.5" fill="#154f8f"/>
<rect x="96.95" y="499.55" width="2.5" height="2.5" fill="#154f8f"/>
<rect x="101.25" y="498.95" width="2.5" height="2.5" fill="#154f8f"/>
<rect x="98.95" y="511.25" width="2.5" height="2.5" fill="#154f8f"/>
<rect x="96.95" y="527.25" width="2.5" height="2.5" fill="#154f8f"/>
<rect x="100.95" y="524.05" width="2.5" height="2.5" fill="#154f8f"/>
<rect x="88.25" y="533.75" width="2.5" height="2.5" fill="#154f8f"/>
<rect x="92.55" y="535.55" width="2.5" height="2.5" fill="#154f8f"/>
<rect x="90.85" y="537.25" width="2.5" height="2.5" fill="#154f8f"/>
<rect x="98.95" y="535.85" width="2.5" height="2.5" fill="#154f8f"/>
<rect x="103.35" y="535.15" width="2.5" height="2.5" fill="#154f8f"/>
<rect x="107.65" y="533.25" width="2.5" height="2.5" fill="#154f8f"/>
<rect x="94.85" y="539.65" width="2.5" height="2.5" fill="#154f8f"/>
<rect x="98.95" y="540.35" width="2.5" height="2.5" fill="#154f8f"/>
<rect x="103.35" y="540.15" width="2.5" height="2.5" fill="#154f8f"/>
<rect x="107.35" y="538.95" width="2.5" height="2.5" fill="#154f8f"/>
<rect x="92.55" y="545.35" width="2.5" height="2.5" fill="#154f8f"/>
<rect x="96.95" y="545.95" width="2.5" height="2.5" fill="#154f8f"/>
<rect x="107.35" y="545.35" width="2.5" height="2.5" fill="#154f8f"/>
<rect x="103.35" y="548.85" width="2.5" height="2.5" fill="#154f8f"/>
<rect x="101.25" y="551.75" width="2.5" height="2.5" fill="#154f8f"/>
<rect x="96.95" y="554.35" width="2.5" height="2.5" fill="#154f8f"/>
<line x1="61.3" y1="528.5" x2="61.3" y2="569.5" stroke="#2e2e2e" stroke-width="1"/>
<line x1="54.9" y1="528.5" x2="67.7" y2="528.5" stroke="#2e2e2e" stroke-width="1"/>
<line x1="54.9" y1="569.5" x2="67.7" y2="569.5" stroke="#2e2e2e" stroke-width="1"/>
<line x1="48.5" y1="548.9" x2="74.1" y2="548.9" stroke="#2e2e2e" stroke-width="1"/>
<line x1="100.2" y1="515.8" x2="100.2" y2="551.3" stroke="#2e2e2e" stroke-width="1"/>
<line x1="93.8" y1="515.8" x2="106.60000000000001" y2="515.8" stroke="#2e2e2e" stroke-width="1"/>
<line x1="93.8" y1="551.3" x2="106.60000000000001" y2="551.3" stroke="#2e2e2e" stroke-width="1"/>
<line x1="87.4" y1="533.3" x2="113.0" y2="533.3" stroke="#2e2e2e" stroke-width="1"/>
<text transform="translate(15.0,570.0) rotate(-90)" font-size="9.2" font-style="italic" fill="#1a1a1a" textLength="26.5" lengthAdjust="spacingAndGlyphs" stroke="#1a1a1a" stroke-width="0.1">NFATC4</text>
<text transform="translate(15.0,543.0) rotate(-90)" font-size="9" fill="#1a1a1a" textLength="51.0" lengthAdjust="spacingAndGlyphs" stroke="#1a1a1a" stroke-width="0.1">expression (log2)</text>
<line x1="164.6" y1="529.7" x2="254.2" y2="529.7" stroke="#cfe9cf" stroke-width="0.8"/>
<line x1="164.6" y1="544.0" x2="254.2" y2="544.0" stroke="#cfe9cf" stroke-width="0.8"/>
<line x1="164.6" y1="485.7" x2="164.6" y2="576.8000000000001" stroke="#111" stroke-width="1.25"/>
<line x1="164.0" y1="576.2" x2="254.2" y2="576.2" stroke="#111" stroke-width="1.25"/>
<line x1="162.4" y1="486.30" x2="164.6" y2="486.30" stroke="#111" stroke-width="0.9"/>
<text x="158.80" y="489.10" font-size="8" text-anchor="end" fill="#1a1a1a" stroke="#1a1a1a" stroke-width="0.1">4</text>
<line x1="162.4" y1="504.28" x2="164.6" y2="504.28" stroke="#111" stroke-width="0.9"/>
<text x="158.80" y="507.08" font-size="8" text-anchor="end" fill="#1a1a1a" stroke="#1a1a1a" stroke-width="0.1">3</text>
<line x1="162.4" y1="522.26" x2="164.6" y2="522.26" stroke="#111" stroke-width="0.9"/>
<text x="158.80" y="525.06" font-size="8" text-anchor="end" fill="#1a1a1a" stroke="#1a1a1a" stroke-width="0.1">2</text>
<line x1="162.4" y1="540.24" x2="164.6" y2="540.24" stroke="#111" stroke-width="0.9"/>
<text x="158.80" y="543.04" font-size="8" text-anchor="end" fill="#1a1a1a" stroke="#1a1a1a" stroke-width="0.1">1</text>
<line x1="162.4" y1="558.22" x2="164.6" y2="558.22" stroke="#111" stroke-width="0.9"/>
<text x="158.80" y="561.02" font-size="8" text-anchor="end" fill="#1a1a1a" stroke="#1a1a1a" stroke-width="0.1">0</text>
<line x1="162.4" y1="576.20" x2="164.6" y2="576.20" stroke="#111" stroke-width="0.9"/>
<text x="158.80" y="579.00" font-size="8" text-anchor="end" fill="#1a1a1a" stroke="#1a1a1a" stroke-width="0.1">−1</text>
<line x1="190.3" y1="576.2" x2="190.3" y2="578.2" stroke="#111" stroke-width="0.9"/>
<line x1="229.2" y1="576.2" x2="229.2" y2="578.2" stroke="#111" stroke-width="0.9"/>
<text x="190.3" y="589.4000000000001" font-size="8.2" text-anchor="middle" fill="#1a1a1a" textLength="33.5" lengthAdjust="spacingAndGlyphs" stroke="#1a1a1a" stroke-width="0.1">Diagnosis</text>
<text x="229.2" y="589.4000000000001" font-size="8.2" text-anchor="middle" fill="#1a1a1a" textLength="28" lengthAdjust="spacingAndGlyphs" stroke="#1a1a1a" stroke-width="0.1">Relapse</text>
<text x="209.8" y="465.9" font-size="9.6" text-anchor="middle" fill="#222" textLength="60" lengthAdjust="spacingAndGlyphs" stroke="#222" stroke-width="0.1">Local pediatric</text>
<text x="209.75" y="479.6" font-size="8.3" text-anchor="middle" fill="#222" textLength="39.7" lengthAdjust="spacingAndGlyphs" stroke="#222" stroke-width="0.1">P = 0.0007</text>
<line x1="190.1" y1="482.9" x2="229.4" y2="482.9" stroke="#333" stroke-width="1.1"/>
<line x1="190.5" y1="482.9" x2="190.5" y2="484.3" stroke="#333" stroke-width="0.8"/>
<line x1="229.0" y1="482.9" x2="229.0" y2="484.3" stroke="#333" stroke-width="0.8"/>
<circle cx="190.3" cy="513.2" r="1.35" fill="#d0112b"/>
<circle cx="190.3" cy="521.5" r="1.35" fill="#d0112b"/>
<circle cx="190.3" cy="534.7" r="1.35" fill="#d0112b"/>
<circle cx="181.8" cy="536.8" r="1.35" fill="#d0112b"/>
<circle cx="186.2" cy="537.5" r="1.35" fill="#d0112b"/>
<circle cx="194.5" cy="538.5" r="1.35" fill="#d0112b"/>
<circle cx="198.6" cy="537.1" r="1.35" fill="#d0112b"/>
<circle cx="190.3" cy="540.2" r="1.35" fill="#d0112b"/>
<circle cx="194.5" cy="543.7" r="1.35" fill="#d0112b"/>
<circle cx="186.2" cy="547.2" r="1.35" fill="#d0112b"/>
<circle cx="190.3" cy="548" r="1.35" fill="#d0112b"/>
<circle cx="186.2" cy="551.5" r="1.35" fill="#d0112b"/>
<circle cx="191.7" cy="551.5" r="1.35" fill="#d0112b"/>
<circle cx="186.2" cy="555.6" r="1.35" fill="#d0112b"/>
<circle cx="194.5" cy="555.6" r="1.35" fill="#d0112b"/>
<circle cx="190.3" cy="558.4" r="1.35" fill="#d0112b"/>
<circle cx="190.3" cy="570.3" r="1.35" fill="#d0112b"/>
<rect x="227.95" y="496.95" width="2.5" height="2.5" fill="#154f8f"/>
<rect x="227.95" y="506.95" width="2.5" height="2.5" fill="#154f8f"/>
<rect x="227.95" y="512.45" width="2.5" height="2.5" fill="#154f8f"/>
<rect x="223.65" y="516.85" width="2.5" height="2.5" fill="#154f8f"/>
<rect x="227.95" y="518.55" width="2.5" height="2.5" fill="#154f8f"/>
<rect x="231.95" y="516.45" width="2.5" height="2.5" fill="#154f8f"/>
<rect x="217.25" y="523.05" width="2.5" height="2.5" fill="#154f8f"/>
<rect x="221.55" y="523.45" width="2.5" height="2.5" fill="#154f8f"/>
<rect x="225.95" y="524.05" width="2.5" height="2.5" fill="#154f8f"/>
<rect x="230.25" y="524.05" width="2.5" height="2.5" fill="#154f8f"/>
<rect x="234.05" y="523.05" width="2.5" height="2.5" fill="#154f8f"/>
<rect x="238.35" y="522.85" width="2.5" height="2.5" fill="#154f8f"/>
<rect x="225.95" y="529.45" width="2.5" height="2.5" fill="#154f8f"/>
<rect x="230.25" y="529.45" width="2.5" height="2.5" fill="#154f8f"/>
<rect x="221.55" y="534.15" width="2.5" height="2.5" fill="#154f8f"/>
<rect x="225.95" y="535.85" width="2.5" height="2.5" fill="#154f8f"/>
<rect x="230.25" y="533.75" width="2.5" height="2.5" fill="#154f8f"/>
<rect x="234.05" y="532.45" width="2.5" height="2.5" fill="#154f8f"/>
<rect x="223.65" y="539.35" width="2.5" height="2.5" fill="#154f8f"/>
<rect x="227.95" y="539.35" width="2.5" height="2.5" fill="#154f8f"/>
<rect x="232.35" y="539.35" width="2.5" height="2.5" fill="#154f8f"/>
<rect x="227.95" y="541.95" width="2.5" height="2.5" fill="#154f8f"/>
<rect x="227.95" y="554.95" width="2.5" height="2.5" fill="#154f8f"/>
<line x1="190.3" y1="530.2" x2="190.3" y2="557.4" stroke="#2e2e2e" stroke-width="1"/>
<line x1="183.9" y1="530.2" x2="196.70000000000002" y2="530.2" stroke="#2e2e2e" stroke-width="1"/>
<line x1="183.9" y1="557.4" x2="196.70000000000002" y2="557.4" stroke="#2e2e2e" stroke-width="1"/>
<line x1="177.5" y1="543.5" x2="203.10000000000002" y2="543.5" stroke="#2e2e2e" stroke-width="1"/>
<line x1="229.2" y1="514.6" x2="229.2" y2="540.2" stroke="#2e2e2e" stroke-width="1"/>
<line x1="222.79999999999998" y1="514.6" x2="235.6" y2="514.6" stroke="#2e2e2e" stroke-width="1"/>
<line x1="222.79999999999998" y1="540.2" x2="235.6" y2="540.2" stroke="#2e2e2e" stroke-width="1"/>
<line x1="216.39999999999998" y1="527.2" x2="242.0" y2="527.2" stroke="#2e2e2e" stroke-width="1"/>
<text transform="translate(143.5,572.2) rotate(-90)" font-size="9.2" font-style="italic" fill="#1a1a1a" textLength="29.6" lengthAdjust="spacingAndGlyphs" stroke="#1a1a1a" stroke-width="0.1">KATNAL2</text>
<text transform="translate(143.5,541.6) rotate(-90)" font-size="9" fill="#1a1a1a" textLength="51.3" lengthAdjust="spacingAndGlyphs" stroke="#1a1a1a" stroke-width="0.1">expression (log2)</text>
<line x1="293.4" y1="528.1" x2="384.2" y2="528.1" stroke="#cfe9cf" stroke-width="0.8"/>
<line x1="293.4" y1="544.0" x2="384.2" y2="544.0" stroke="#cfe9cf" stroke-width="0.8"/>
<line x1="293.4" y1="484.29999999999995" x2="293.4" y2="576.7" stroke="#111" stroke-width="1.25"/>
<line x1="292.79999999999995" y1="576.1" x2="384.2" y2="576.1" stroke="#111" stroke-width="1.25"/>
<line x1="291.2" y1="484.90" x2="293.4" y2="484.90" stroke="#111" stroke-width="0.9"/>
<text x="287.60" y="487.70" font-size="8" text-anchor="end" fill="#1a1a1a" stroke="#1a1a1a" stroke-width="0.1">6</text>
<line x1="291.2" y1="497.92" x2="293.4" y2="497.92" stroke="#111" stroke-width="0.9"/>
<text x="287.60" y="500.72" font-size="8" text-anchor="end" fill="#1a1a1a" stroke="#1a1a1a" stroke-width="0.1">4</text>
<line x1="291.2" y1="510.94" x2="293.4" y2="510.94" stroke="#111" stroke-width="0.9"/>
<text x="287.60" y="513.74" font-size="8" text-anchor="end" fill="#1a1a1a" stroke="#1a1a1a" stroke-width="0.1">2</text>
<line x1="291.2" y1="523.96" x2="293.4" y2="523.96" stroke="#111" stroke-width="0.9"/>
<text x="287.60" y="526.76" font-size="8" text-anchor="end" fill="#1a1a1a" stroke="#1a1a1a" stroke-width="0.1">0</text>
<line x1="291.2" y1="536.98" x2="293.4" y2="536.98" stroke="#111" stroke-width="0.9"/>
<text x="287.60" y="539.78" font-size="8" text-anchor="end" fill="#1a1a1a" stroke="#1a1a1a" stroke-width="0.1">−2</text>
<line x1="291.2" y1="550.00" x2="293.4" y2="550.00" stroke="#111" stroke-width="0.9"/>
<text x="287.60" y="552.80" font-size="8" text-anchor="end" fill="#1a1a1a" stroke="#1a1a1a" stroke-width="0.1">−4</text>
<line x1="291.2" y1="563.02" x2="293.4" y2="563.02" stroke="#111" stroke-width="0.9"/>
<text x="287.60" y="565.82" font-size="8" text-anchor="end" fill="#1a1a1a" stroke="#1a1a1a" stroke-width="0.1">−6</text>
<line x1="291.2" y1="576.04" x2="293.4" y2="576.04" stroke="#111" stroke-width="0.9"/>
<text x="287.60" y="578.84" font-size="8" text-anchor="end" fill="#1a1a1a" stroke="#1a1a1a" stroke-width="0.1">−8</text>
<line x1="319.8" y1="576.1" x2="319.8" y2="578.1" stroke="#111" stroke-width="0.9"/>
<line x1="358.8" y1="576.1" x2="358.8" y2="578.1" stroke="#111" stroke-width="0.9"/>
<text x="319.8" y="589.3000000000001" font-size="8.2" text-anchor="middle" fill="#1a1a1a" textLength="33.5" lengthAdjust="spacingAndGlyphs" stroke="#1a1a1a" stroke-width="0.1">Diagnosis</text>
<text x="358.8" y="589.3000000000001" font-size="8.2" text-anchor="middle" fill="#1a1a1a" textLength="28" lengthAdjust="spacingAndGlyphs" stroke="#1a1a1a" stroke-width="0.1">Relapse</text>
<text x="339.0" y="465.9" font-size="10.2" text-anchor="middle" fill="#222" textLength="35.6" lengthAdjust="spacingAndGlyphs" stroke="#222" stroke-width="0.1">TARGET</text>
<text x="339.10" y="479.6" font-size="8.3" text-anchor="middle" fill="#222" textLength="35" lengthAdjust="spacingAndGlyphs" stroke="#222" stroke-width="0.1">P = 0.020</text>
<line x1="319.3" y1="482.9" x2="358.9" y2="482.9" stroke="#333" stroke-width="1.1"/>
<line x1="319.7" y1="482.9" x2="319.7" y2="484.3" stroke="#333" stroke-width="0.8"/>
<line x1="358.5" y1="482.9" x2="358.5" y2="484.3" stroke="#333" stroke-width="0.8"/>
<circle cx="319.83" cy="503.71" r="1.35" fill="#d0112b"/>
<circle cx="317.75" cy="512.88" r="1.35" fill="#d0112b"/>
<circle cx="321.9" cy="512.02" r="1.35" fill="#d0112b"/>
<circle cx="319.83" cy="523.61" r="1.35" fill="#d0112b"/>
<circle cx="317.75" cy="526.73" r="1.35" fill="#d0112b"/>
<circle cx="321.9" cy="526.38" r="1.35" fill="#d0112b"/>
<circle cx="313.77" cy="531.92" r="1.35" fill="#d0112b"/>
<circle cx="317.75" cy="534.0" r="1.35" fill="#d0112b"/>
<circle cx="321.9" cy="534.52" r="1.35" fill="#d0112b"/>
<circle cx="328.13" cy="531.92" r="1.35" fill="#d0112b"/>
<circle cx="313.77" cy="536.77" r="1.35" fill="#d0112b"/>
<circle cx="317.75" cy="537.11" r="1.35" fill="#d0112b"/>
<circle cx="325.88" cy="536.77" r="1.35" fill="#d0112b"/>
<circle cx="319.83" cy="540.23" r="1.35" fill="#d0112b"/>
<circle cx="315.5" cy="540.57" r="1.35" fill="#d0112b"/>
<circle cx="323.81" cy="540.57" r="1.35" fill="#d0112b"/>
<circle cx="309.44" cy="543.69" r="1.35" fill="#d0112b"/>
<circle cx="313.77" cy="544.38" r="1.35" fill="#d0112b"/>
<circle cx="317.75" cy="544.38" r="1.35" fill="#d0112b"/>
<circle cx="321.9" cy="544.38" r="1.35" fill="#d0112b"/>
<circle cx="325.88" cy="544.38" r="1.35" fill="#d0112b"/>
<circle cx="329.86" cy="544.38" r="1.35" fill="#d0112b"/>
<circle cx="313.77" cy="549.23" r="1.35" fill="#d0112b"/>
<circle cx="317.75" cy="550.09" r="1.35" fill="#d0112b"/>
<circle cx="321.9" cy="550.09" r="1.35" fill="#d0112b"/>
<circle cx="325.88" cy="548.88" r="1.35" fill="#d0112b"/>
<circle cx="315.5" cy="552.34" r="1.35" fill="#d0112b"/>
<circle cx="319.83" cy="552.34" r="1.35" fill="#d0112b"/>
<circle cx="323.81" cy="552.69" r="1.35" fill="#d0112b"/>
<circle cx="319.83" cy="555.8" r="1.35" fill="#d0112b"/>
<circle cx="317.75" cy="563.42" r="1.35" fill="#d0112b"/>
<circle cx="321.9" cy="563.42" r="1.35" fill="#d0112b"/>
<rect x="357.52" y="497.79" width="2.5" height="2.5" fill="#154f8f"/>
<rect x="349.38" y="505.58" width="2.5" height="2.5" fill="#154f8f"/>
<rect x="353.54" y="506.44" width="2.5" height="2.5" fill="#154f8f"/>
<rect x="357.86" y="508.17" width="2.5" height="2.5" fill="#154f8f"/>
<rect x="361.84" y="508.17" width="2.5" height="2.5" fill="#154f8f"/>
<rect x="366.17" y="505.58" width="2.5" height="2.5" fill="#154f8f"/>
<rect x="349.38" y="512.84" width="2.5" height="2.5" fill="#154f8f"/>
<rect x="353.54" y="514.23" width="2.5" height="2.5" fill="#154f8f"/>
<rect x="357.86" y="513.02" width="2.5" height="2.5" fill="#154f8f"/>
<rect x="361.84" y="513.02" width="2.5" height="2.5" fill="#154f8f"/>
<rect x="366.17" y="512.50" width="2.5" height="2.5" fill="#154f8f"/>
<rect x="353.54" y="519.42" width="2.5" height="2.5" fill="#154f8f"/>
<rect x="357.86" y="520.29" width="2.5" height="2.5" fill="#154f8f"/>
<rect x="360.11" y="518.56" width="2.5" height="2.5" fill="#154f8f"/>
<rect x="347.48" y="526.86" width="2.5" height="2.5" fill="#154f8f"/>
<rect x="351.46" y="528.94" width="2.5" height="2.5" fill="#154f8f"/>
<rect x="355.79" y="528.94" width="2.5" height="2.5" fill="#154f8f"/>
<rect x="360.11" y="528.94" width="2.5" height="2.5" fill="#154f8f"/>
<rect x="364.09" y="527.56" width="2.5" height="2.5" fill="#154f8f"/>
<rect x="368.42" y="526.34" width="2.5" height="2.5" fill="#154f8f"/>
<rect x="351.46" y="533.27" width="2.5" height="2.5" fill="#154f8f"/>
<rect x="355.79" y="535.00" width="2.5" height="2.5" fill="#154f8f"/>
<rect x="360.11" y="534.48" width="2.5" height="2.5" fill="#154f8f"/>
<rect x="364.09" y="535.86" width="2.5" height="2.5" fill="#154f8f"/>
<rect x="366.17" y="534.48" width="2.5" height="2.5" fill="#154f8f"/>
<rect x="349.38" y="538.46" width="2.5" height="2.5" fill="#154f8f"/>
<rect x="353.54" y="539.32" width="2.5" height="2.5" fill="#154f8f"/>
<rect x="357.86" y="539.67" width="2.5" height="2.5" fill="#154f8f"/>
<rect x="360.11" y="538.98" width="2.5" height="2.5" fill="#154f8f"/>
<rect x="353.54" y="546.25" width="2.5" height="2.5" fill="#154f8f"/>
<rect x="357.86" y="545.38" width="2.5" height="2.5" fill="#154f8f"/>
<rect x="361.84" y="547.11" width="2.5" height="2.5" fill="#154f8f"/>
<rect x="357.86" y="549.71" width="2.5" height="2.5" fill="#154f8f"/>
<rect x="353.54" y="554.04" width="2.5" height="2.5" fill="#154f8f"/>
<rect x="357.86" y="554.04" width="2.5" height="2.5" fill="#154f8f"/>
<rect x="361.84" y="552.82" width="2.5" height="2.5" fill="#154f8f"/>
<rect x="357.86" y="557.50" width="2.5" height="2.5" fill="#154f8f"/>
<rect x="357.86" y="562.17" width="2.5" height="2.5" fill="#154f8f"/>
<line x1="319.8" y1="525.3" x2="319.8" y2="554.1" stroke="#2e2e2e" stroke-width="1"/>
<line x1="313.40000000000003" y1="525.3" x2="326.2" y2="525.3" stroke="#2e2e2e" stroke-width="1"/>
<line x1="313.40000000000003" y1="554.1" x2="326.2" y2="554.1" stroke="#2e2e2e" stroke-width="1"/>
<line x1="307.0" y1="539.4" x2="332.6" y2="539.4" stroke="#2e2e2e" stroke-width="1"/>
<line x1="358.8" y1="513.2" x2="358.8" y2="546.1" stroke="#2e2e2e" stroke-width="1"/>
<line x1="352.40000000000003" y1="513.2" x2="365.2" y2="513.2" stroke="#2e2e2e" stroke-width="1"/>
<line x1="352.40000000000003" y1="546.1" x2="365.2" y2="546.1" stroke="#2e2e2e" stroke-width="1"/>
<line x1="346.0" y1="530.2" x2="371.6" y2="530.2" stroke="#2e2e2e" stroke-width="1"/>
<text transform="translate(272.5,569.7) rotate(-90)" font-size="9.2" font-style="italic" fill="#1a1a1a" textLength="26.5" lengthAdjust="spacingAndGlyphs" stroke="#1a1a1a" stroke-width="0.1">NFATC4</text>
<text transform="translate(272.5,542.7) rotate(-90)" font-size="9" fill="#1a1a1a" textLength="51.3" lengthAdjust="spacingAndGlyphs" stroke="#1a1a1a" stroke-width="0.1">expression (log2)</text>
<line x1="422.3" y1="511.5" x2="512.9" y2="511.5" stroke="#cfe9cf" stroke-width="0.8"/>
<line x1="422.3" y1="518.4" x2="512.9" y2="518.4" stroke="#cfe9cf" stroke-width="0.8"/>
<line x1="422.3" y1="484.29999999999995" x2="422.3" y2="576.7" stroke="#111" stroke-width="1.25"/>
<line x1="421.7" y1="576.1" x2="512.9" y2="576.1" stroke="#111" stroke-width="1.25"/>
<line x1="420.1" y1="484.90" x2="422.3" y2="484.90" stroke="#111" stroke-width="0.9"/>
<text x="416.50" y="487.70" font-size="8" text-anchor="end" fill="#1a1a1a" stroke="#1a1a1a" stroke-width="0.1">4</text>
<line x1="420.1" y1="500.08" x2="422.3" y2="500.08" stroke="#111" stroke-width="0.9"/>
<text x="416.50" y="502.88" font-size="8" text-anchor="end" fill="#1a1a1a" stroke="#1a1a1a" stroke-width="0.1">2</text>
<line x1="420.1" y1="515.26" x2="422.3" y2="515.26" stroke="#111" stroke-width="0.9"/>
<text x="416.50" y="518.06" font-size="8" text-anchor="end" fill="#1a1a1a" stroke="#1a1a1a" stroke-width="0.1">0</text>
<line x1="420.1" y1="530.44" x2="422.3" y2="530.44" stroke="#111" stroke-width="0.9"/>
<text x="416.50" y="533.24" font-size="8" text-anchor="end" fill="#1a1a1a" stroke="#1a1a1a" stroke-width="0.1">−2</text>
<line x1="420.1" y1="545.62" x2="422.3" y2="545.62" stroke="#111" stroke-width="0.9"/>
<text x="416.50" y="548.42" font-size="8" text-anchor="end" fill="#1a1a1a" stroke="#1a1a1a" stroke-width="0.1">−4</text>
<line x1="420.1" y1="560.80" x2="422.3" y2="560.80" stroke="#111" stroke-width="0.9"/>
<text x="416.50" y="563.60" font-size="8" text-anchor="end" fill="#1a1a1a" stroke="#1a1a1a" stroke-width="0.1">−6</text>
<line x1="420.1" y1="575.98" x2="422.3" y2="575.98" stroke="#111" stroke-width="0.9"/>
<text x="416.50" y="578.78" font-size="8" text-anchor="end" fill="#1a1a1a" stroke="#1a1a1a" stroke-width="0.1">−8</text>
<line x1="448.8" y1="576.1" x2="448.8" y2="578.1" stroke="#111" stroke-width="0.9"/>
<line x1="487.8" y1="576.1" x2="487.8" y2="578.1" stroke="#111" stroke-width="0.9"/>
<text x="448.8" y="589.3000000000001" font-size="8.2" text-anchor="middle" fill="#1a1a1a" textLength="33.5" lengthAdjust="spacingAndGlyphs" stroke="#1a1a1a" stroke-width="0.1">Diagnosis</text>
<text x="487.8" y="589.3000000000001" font-size="8.2" text-anchor="middle" fill="#1a1a1a" textLength="28" lengthAdjust="spacingAndGlyphs" stroke="#1a1a1a" stroke-width="0.1">Relapse</text>
<text x="467.4" y="465.9" font-size="10.2" text-anchor="middle" fill="#222" textLength="35.6" lengthAdjust="spacingAndGlyphs" stroke="#222" stroke-width="0.1">TARGET</text>
<text x="467.80" y="479.6" font-size="8.3" text-anchor="middle" fill="#222" textLength="35.2" lengthAdjust="spacingAndGlyphs" stroke="#222" stroke-width="0.1">P = 0.011</text>
<line x1="448.0" y1="482.9" x2="487.6" y2="482.9" stroke="#333" stroke-width="1.1"/>
<line x1="448.4" y1="482.9" x2="448.4" y2="484.3" stroke="#333" stroke-width="0.8"/>
<line x1="487.20000000000005" y1="482.9" x2="487.20000000000005" y2="484.3" stroke="#333" stroke-width="0.8"/>
<circle cx="448.83" cy="501.63" r="1.35" fill="#d0112b"/>
<circle cx="440.52" cy="507.35" r="1.35" fill="#d0112b"/>
<circle cx="456.96" cy="507.35" r="1.35" fill="#d0112b"/>
<circle cx="444.5" cy="511.15" r="1.35" fill="#d0112b"/>
<circle cx="448.83" cy="511.5" r="1.35" fill="#d0112b"/>
<circle cx="452.81" cy="510.29" r="1.35" fill="#d0112b"/>
<circle cx="440.52" cy="514.61" r="1.35" fill="#d0112b"/>
<circle cx="444.5" cy="515.48" r="1.35" fill="#d0112b"/>
<circle cx="448.83" cy="516.34" r="1.35" fill="#d0112b"/>
<circle cx="454.88" cy="513.75" r="1.35" fill="#d0112b"/>
<circle cx="458.86" cy="512.54" r="1.35" fill="#d0112b"/>
<circle cx="444.5" cy="518.94" r="1.35" fill="#d0112b"/>
<circle cx="448.83" cy="519.81" r="1.35" fill="#d0112b"/>
<circle cx="452.81" cy="519.81" r="1.35" fill="#d0112b"/>
<circle cx="440.17" cy="519.46" r="1.35" fill="#d0112b"/>
<circle cx="437.23" cy="522.92" r="1.35" fill="#d0112b"/>
<circle cx="441.56" cy="523.27" r="1.35" fill="#d0112b"/>
<circle cx="445.36" cy="523.27" r="1.35" fill="#d0112b"/>
<circle cx="448.83" cy="522.92" r="1.35" fill="#d0112b"/>
<circle cx="452.81" cy="523.27" r="1.35" fill="#d0112b"/>
<circle cx="456.27" cy="523.27" r="1.35" fill="#d0112b"/>
<circle cx="459.73" cy="522.92" r="1.35" fill="#d0112b"/>
<circle cx="444.5" cy="525.86" r="1.35" fill="#d0112b"/>
<circle cx="448.83" cy="525.86" r="1.35" fill="#d0112b"/>
<circle cx="452.81" cy="525.86" r="1.35" fill="#d0112b"/>
<circle cx="448.83" cy="530.19" r="1.35" fill="#d0112b"/>
<circle cx="446.75" cy="535.38" r="1.35" fill="#d0112b"/>
<circle cx="450.9" cy="534.52" r="1.35" fill="#d0112b"/>
<rect x="482.54" y="497.79" width="2.5" height="2.5" fill="#154f8f"/>
<rect x="488.59" y="497.79" width="2.5" height="2.5" fill="#154f8f"/>
<rect x="482.54" y="502.11" width="2.5" height="2.5" fill="#154f8f"/>
<rect x="486.52" y="502.11" width="2.5" height="2.5" fill="#154f8f"/>
<rect x="497.77" y="500.90" width="2.5" height="2.5" fill="#154f8f"/>
<rect x="475.79" y="505.58" width="2.5" height="2.5" fill="#154f8f"/>
<rect x="480.46" y="504.71" width="2.5" height="2.5" fill="#154f8f"/>
<rect x="484.79" y="505.58" width="2.5" height="2.5" fill="#154f8f"/>
<rect x="490.32" y="504.36" width="2.5" height="2.5" fill="#154f8f"/>
<rect x="494.30" y="503.85" width="2.5" height="2.5" fill="#154f8f"/>
<rect x="477.86" y="509.90" width="2.5" height="2.5" fill="#154f8f"/>
<rect x="482.19" y="509.90" width="2.5" height="2.5" fill="#154f8f"/>
<rect x="486.52" y="509.56" width="2.5" height="2.5" fill="#154f8f"/>
<rect x="490.32" y="509.04" width="2.5" height="2.5" fill="#154f8f"/>
<rect x="494.30" y="509.56" width="2.5" height="2.5" fill="#154f8f"/>
<rect x="497.77" y="506.10" width="2.5" height="2.5" fill="#154f8f"/>
<rect x="475.79" y="513.36" width="2.5" height="2.5" fill="#154f8f"/>
<rect x="479.59" y="514.23" width="2.5" height="2.5" fill="#154f8f"/>
<rect x="483.06" y="512.50" width="2.5" height="2.5" fill="#154f8f"/>
<rect x="486.52" y="513.36" width="2.5" height="2.5" fill="#154f8f"/>
<rect x="490.32" y="512.50" width="2.5" height="2.5" fill="#154f8f"/>
<rect x="494.30" y="513.36" width="2.5" height="2.5" fill="#154f8f"/>
<rect x="497.77" y="513.36" width="2.5" height="2.5" fill="#154f8f"/>
<rect x="480.46" y="518.56" width="2.5" height="2.5" fill="#154f8f"/>
<rect x="484.79" y="517.69" width="2.5" height="2.5" fill="#154f8f"/>
<rect x="488.25" y="518.21" width="2.5" height="2.5" fill="#154f8f"/>
<rect x="492.57" y="519.08" width="2.5" height="2.5" fill="#154f8f"/>
<rect x="484.79" y="521.15" width="2.5" height="2.5" fill="#154f8f"/>
<rect x="488.25" y="522.02" width="2.5" height="2.5" fill="#154f8f"/>
<rect x="486.52" y="528.08" width="2.5" height="2.5" fill="#154f8f"/>
<rect x="486.52" y="540.54" width="2.5" height="2.5" fill="#154f8f"/>
<rect x="484.79" y="559.23" width="2.5" height="2.5" fill="#154f8f"/>
<rect x="489.11" y="559.23" width="2.5" height="2.5" fill="#154f8f"/>
<line x1="448.8" y1="510.6" x2="448.8" y2="526.4" stroke="#2e2e2e" stroke-width="1"/>
<line x1="442.40000000000003" y1="510.6" x2="455.2" y2="510.6" stroke="#2e2e2e" stroke-width="1"/>
<line x1="442.40000000000003" y1="526.4" x2="455.2" y2="526.4" stroke="#2e2e2e" stroke-width="1"/>
<line x1="436.0" y1="518.1" x2="461.6" y2="518.1" stroke="#2e2e2e" stroke-width="1"/>
<line x1="487.8" y1="501.3" x2="487.8" y2="529.0" stroke="#2e2e2e" stroke-width="1"/>
<line x1="481.40000000000003" y1="501.3" x2="494.2" y2="501.3" stroke="#2e2e2e" stroke-width="1"/>
<line x1="481.40000000000003" y1="529.0" x2="494.2" y2="529.0" stroke="#2e2e2e" stroke-width="1"/>
<line x1="475.0" y1="514.6" x2="500.6" y2="514.6" stroke="#2e2e2e" stroke-width="1"/>
<text transform="translate(401.2,570.7) rotate(-90)" font-size="9.2" font-style="italic" fill="#1a1a1a" textLength="29.6" lengthAdjust="spacingAndGlyphs" stroke="#1a1a1a" stroke-width="0.1">KATNAL2</text>
<text transform="translate(401.2,540.6) rotate(-90)" font-size="9" fill="#1a1a1a" textLength="50.8" lengthAdjust="spacingAndGlyphs" stroke="#1a1a1a" stroke-width="0.1">expression (log2)</text>
</svg>
</body></html>
